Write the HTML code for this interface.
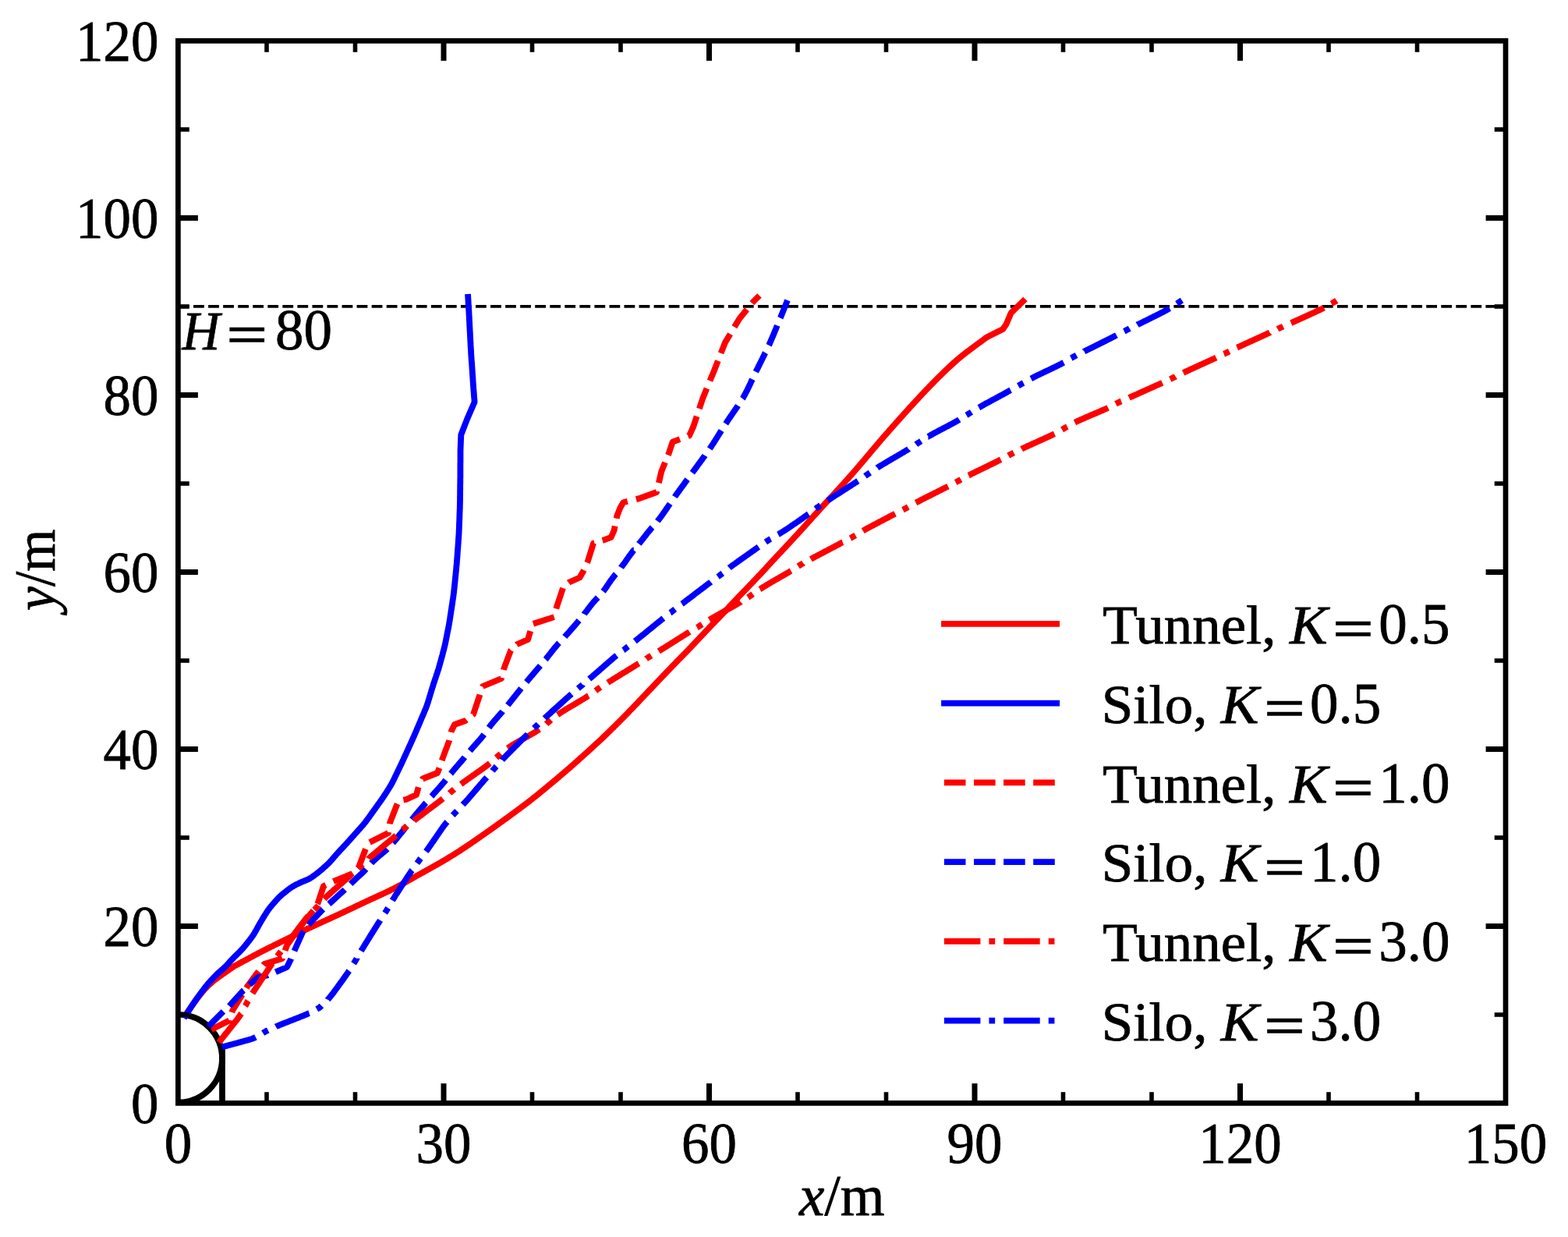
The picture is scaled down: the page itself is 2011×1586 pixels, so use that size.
<!DOCTYPE html>
<html><head><meta charset="utf-8"><style>
html,body{margin:0;padding:0;background:#fff;width:2011px;height:1586px;overflow:hidden}
svg{display:block}
text{font-family:'Liberation Serif', 'Times New Roman', serif;fill:#000;stroke:#000;stroke-width:0.8px}
</style></head><body>
<svg width="2011" height="1586" viewBox="0 0 2011 1586">
<rect width="2011" height="1586" fill="#fff"/>
<defs><clipPath id="c"><rect x="228.5" y="52.5" width="1702.5" height="1362.0"/></clipPath></defs>
<g clip-path="url(#c)">
<line x1="228.5" y1="392.85" x2="1931.0" y2="392.85" stroke="#000" stroke-width="3.9" stroke-dasharray="13.8 5.25" stroke-dashoffset="-0.5"/>
<path d="M228.5,1300.6999999999998 A56.4,56.4 0 0 1 228.5,1413.5" fill="none" stroke="#000" stroke-width="7.6"/>
<line x1="285" y1="1414.5" x2="285" y2="1342" stroke="#000" stroke-width="7.75"/>
<path d="M236.0,1304.5 L236.8,1303.2 L237.7,1302.0 L238.5,1300.7 L239.4,1299.4 L240.2,1298.2 L241.1,1296.9 L241.9,1295.7 L242.8,1294.4 L243.6,1293.2 L244.5,1291.9 L245.3,1290.7 L246.2,1289.4 L247.1,1288.2 L247.9,1286.9 L248.8,1285.7 L249.7,1284.5 L250.6,1283.2 L251.5,1282.0 L252.4,1280.8 L253.4,1279.6 L254.3,1278.4 L255.2,1277.2 L256.2,1276.0 L257.1,1274.8 L258.1,1273.7 L259.0,1272.5 L260.0,1271.3 L261.0,1270.2 L262.0,1269.0 L263.0,1267.9 L264.0,1266.8 L265.1,1265.7 L266.2,1264.6 L267.2,1263.6 L268.4,1262.5 L269.5,1261.5 L270.6,1260.5 L271.7,1259.5 L272.9,1258.5 L274.1,1257.5 L275.3,1256.6 L276.5,1255.7 L277.7,1254.8 L278.9,1253.9 L280.1,1253.0 L281.4,1252.1 L282.6,1251.2 L283.8,1250.3 L285.1,1249.5 L286.3,1248.6 L287.6,1247.7 L288.8,1246.8 L290.0,1246.0 L291.3,1245.1 L292.5,1244.2 L293.8,1243.4 L295.0,1242.5 L296.3,1241.6 L297.5,1240.7 L298.8,1239.9 L300.0,1239.0 L301.3,1238.3 L302.6,1237.6 L304.0,1236.9 L305.3,1236.2 L306.6,1235.5 L307.9,1234.8 L309.3,1234.0 L310.6,1233.3 L311.9,1232.6 L313.2,1231.9 L314.5,1231.2 L315.9,1230.5 L317.2,1229.8 L318.5,1229.1 L319.8,1228.4 L321.1,1227.6 L322.5,1226.9 L323.8,1226.2 L325.1,1225.5 L326.4,1224.8 L327.8,1224.1 L329.1,1223.4 L330.4,1222.7 L331.7,1222.0 L333.1,1221.3 L334.4,1220.6 L335.7,1219.9 L337.1,1219.2 L338.4,1218.5 L339.7,1217.9 L341.1,1217.2 L342.4,1216.5 L343.7,1215.8 L345.1,1215.2 L346.4,1214.5 L347.8,1213.8 L349.1,1213.2 L350.5,1212.5 L351.8,1211.8 L353.1,1211.2 L354.5,1210.5 L355.8,1209.9 L357.2,1209.2 L358.5,1208.5 L359.9,1207.9 L361.2,1207.2 L362.6,1206.5 L363.9,1205.9 L365.3,1205.2 L366.6,1204.6 L368.0,1203.9 L369.3,1203.2 L370.6,1202.6 L372.0,1201.9 L373.3,1201.2 L374.7,1200.6 L376.0,1199.9 L377.4,1199.2 L378.7,1198.5 L380.0,1197.9 L381.4,1197.2 L382.7,1196.5 L384.1,1195.9 L385.4,1195.2 L386.8,1194.6 L388.1,1193.9 L389.5,1193.2 L390.8,1192.6 L392.2,1191.9 L393.5,1191.3 L394.9,1190.6 L396.2,1190.0 L397.6,1189.4 L398.9,1188.7 L400.3,1188.1 L401.7,1187.5 L403.0,1186.8 L404.4,1186.2 L405.7,1185.6 L407.1,1184.9 L408.5,1184.3 L409.8,1183.7 L411.2,1183.1 L412.6,1182.4 L413.9,1181.8 L415.3,1181.2 L416.7,1180.6 L418.0,1180.0 L419.4,1179.3 L420.8,1178.7 L422.1,1178.1 L423.5,1177.5 L424.8,1176.8 L426.2,1176.2 L427.6,1175.6 L428.9,1175.0 L430.3,1174.3 L431.7,1173.7 L433.0,1173.1 L434.4,1172.5 L435.8,1171.8 L437.1,1171.2 L438.5,1170.6 L439.8,1169.9 L441.2,1169.3 L442.5,1168.6 L443.9,1168.0 L445.3,1167.4 L446.6,1166.7 L448.0,1166.1 L449.3,1165.4 L450.7,1164.8 L452.0,1164.2 L453.4,1163.5 L454.7,1162.9 L456.1,1162.2 L457.5,1161.6 L458.8,1160.9 L460.2,1160.3 L461.5,1159.7 L462.9,1159.0 L464.2,1158.4 L465.6,1157.7 L467.0,1157.1 L468.3,1156.5 L469.7,1155.8 L471.0,1155.2 L472.4,1154.6 L473.8,1153.9 L475.1,1153.3 L476.5,1152.7 L477.9,1152.1 L479.2,1151.4 L480.6,1150.8 L481.9,1150.2 L483.3,1149.6 L484.7,1148.9 L486.0,1148.3 L487.4,1147.7 L488.8,1147.1 L490.1,1146.4 L491.5,1145.8 L492.8,1145.2 L494.2,1144.5 L495.6,1143.9 L496.9,1143.3 L498.3,1142.6 L499.6,1142.0 L500.9,1141.3 L502.3,1140.6 L503.6,1140.0 L505.0,1139.3 L506.3,1138.6 L507.6,1137.9 L509.0,1137.2 L510.3,1136.5 L511.6,1135.8 L512.9,1135.1 L514.2,1134.4 L515.6,1133.7 L516.9,1132.9 L518.2,1132.2 L519.5,1131.5 L520.8,1130.7 L522.1,1130.0 L523.4,1129.3 L524.7,1128.5 L526.0,1127.8 L527.3,1127.0 L528.6,1126.3 L529.9,1125.6 L531.2,1124.8 L532.5,1124.1 L533.8,1123.3 L535.1,1122.6 L536.4,1121.9 L537.8,1121.1 L539.1,1120.4 L540.4,1119.7 L541.7,1118.9 L543.0,1118.2 L544.3,1117.5 L545.6,1116.7 L546.9,1116.0 L548.2,1115.3 L549.5,1114.6 L550.9,1113.8 L552.2,1113.1 L553.5,1112.4 L554.8,1111.6 L556.1,1110.9 L557.4,1110.2 L558.7,1109.4 L560.0,1108.7 L561.3,1108.0 L562.6,1107.2 L563.9,1106.5 L565.2,1105.7 L566.5,1105.0 L567.8,1104.2 L569.1,1103.5 L570.4,1102.7 L571.7,1101.9 L573.0,1101.2 L574.3,1100.4 L575.6,1099.6 L576.8,1098.8 L578.1,1098.1 L579.4,1097.3 L580.7,1096.5 L581.9,1095.7 L583.2,1094.9 L584.5,1094.1 L585.7,1093.3 L587.0,1092.5 L588.3,1091.7 L589.5,1090.9 L590.8,1090.0 L592.0,1089.2 L593.3,1088.4 L594.5,1087.6 L595.8,1086.7 L597.0,1085.9 L598.3,1085.1 L599.5,1084.2 L600.8,1083.4 L602.0,1082.6 L603.3,1081.7 L604.5,1080.9 L605.7,1080.0 L607.0,1079.2 L608.2,1078.3 L609.4,1077.5 L610.7,1076.6 L611.9,1075.8 L613.1,1074.9 L614.4,1074.0 L615.6,1073.2 L616.8,1072.3 L618.1,1071.5 L619.3,1070.6 L620.5,1069.8 L621.8,1068.9 L623.0,1068.0 L624.2,1067.2 L625.4,1066.3 L626.7,1065.5 L627.9,1064.6 L629.1,1063.7 L630.4,1062.9 L631.6,1062.0 L632.8,1061.1 L634.0,1060.3 L635.2,1059.4 L636.5,1058.5 L637.7,1057.6 L638.9,1056.8 L640.1,1055.9 L641.3,1055.0 L642.6,1054.1 L643.8,1053.3 L645.0,1052.4 L646.2,1051.5 L647.4,1050.6 L648.6,1049.7 L649.8,1048.9 L651.1,1048.0 L652.3,1047.1 L653.5,1046.2 L654.7,1045.3 L655.9,1044.4 L657.1,1043.5 L658.3,1042.7 L659.5,1041.8 L660.7,1040.9 L661.9,1040.0 L663.2,1039.1 L664.4,1038.2 L665.6,1037.3 L666.8,1036.4 L668.0,1035.5 L669.2,1034.6 L670.4,1033.7 L671.6,1032.8 L672.8,1031.9 L674.0,1031.0 L675.2,1030.1 L676.4,1029.2 L677.5,1028.3 L678.7,1027.4 L679.9,1026.4 L681.1,1025.5 L682.3,1024.6 L683.5,1023.7 L684.6,1022.7 L685.8,1021.8 L687.0,1020.9 L688.2,1019.9 L689.3,1019.0 L690.5,1018.1 L691.6,1017.1 L692.8,1016.2 L694.0,1015.2 L695.1,1014.3 L696.3,1013.3 L697.5,1012.4 L698.6,1011.4 L699.8,1010.4 L700.9,1009.5 L702.1,1008.5 L703.2,1007.6 L704.4,1006.6 L705.5,1005.7 L706.7,1004.7 L707.8,1003.7 L709.0,1002.8 L710.1,1001.8 L711.3,1000.8 L712.4,999.9 L713.6,998.9 L714.7,998.0 L715.9,997.0 L717.0,996.0 L718.2,995.0 L719.3,994.1 L720.5,993.1 L721.6,992.1 L722.7,991.2 L723.9,990.2 L725.0,989.2 L726.2,988.2 L727.3,987.2 L728.4,986.3 L729.6,985.3 L730.7,984.3 L731.8,983.3 L732.9,982.3 L734.1,981.3 L735.2,980.3 L736.3,979.3 L737.4,978.3 L738.6,977.3 L739.7,976.3 L740.8,975.3 L741.9,974.3 L743.0,973.3 L744.1,972.3 L745.3,971.3 L746.4,970.3 L747.5,969.3 L748.6,968.3 L749.7,967.3 L750.8,966.3 L752.0,965.3 L753.1,964.3 L754.2,963.3 L755.3,962.3 L756.4,961.3 L757.5,960.3 L758.6,959.3 L759.7,958.3 L760.8,957.2 L762.0,956.2 L763.1,955.2 L764.2,954.2 L765.3,953.2 L766.4,952.2 L767.5,951.1 L768.6,950.1 L769.7,949.1 L770.8,948.1 L771.9,947.1 L772.9,946.0 L774.0,945.0 L775.1,944.0 L776.2,942.9 L777.3,941.9 L778.4,940.8 L779.4,939.8 L780.5,938.8 L781.6,937.7 L782.7,936.7 L783.8,935.6 L784.8,934.6 L785.9,933.5 L787.0,932.5 L788.0,931.4 L789.1,930.4 L790.2,929.3 L791.2,928.2 L792.3,927.2 L793.4,926.1 L794.4,925.1 L795.5,924.0 L796.5,922.9 L797.6,921.9 L798.6,920.8 L799.7,919.7 L800.7,918.7 L801.8,917.6 L802.8,916.5 L803.9,915.4 L804.9,914.4 L806.0,913.3 L807.0,912.2 L808.0,911.1 L809.1,910.0 L810.1,909.0 L811.2,907.9 L812.2,906.8 L813.2,905.7 L814.3,904.6 L815.3,903.5 L816.3,902.5 L817.4,901.4 L818.4,900.3 L819.4,899.2 L820.5,898.1 L821.5,897.0 L822.5,895.9 L823.6,894.8 L824.6,893.8 L825.6,892.7 L826.7,891.6 L827.7,890.5 L828.7,889.4 L829.8,888.3 L830.8,887.2 L831.8,886.1 L832.9,885.0 L833.9,884.0 L834.9,882.9 L836.0,881.8 L837.0,880.7 L838.0,879.6 L839.1,878.5 L840.1,877.4 L841.1,876.3 L842.2,875.2 L843.2,874.2 L844.2,873.1 L845.3,872.0 L846.3,870.9 L847.3,869.8 L848.4,868.7 L849.4,867.6 L850.4,866.5 L851.5,865.5 L852.5,864.4 L853.5,863.3 L854.6,862.2 L855.6,861.1 L856.7,860.0 L857.7,859.0 L858.7,857.9 L859.8,856.8 L860.8,855.7 L861.9,854.6 L862.9,853.6 L864.0,852.5 L865.0,851.4 L866.1,850.3 L867.1,849.3 L868.1,848.2 L869.2,847.1 L870.2,846.1 L871.3,845.0 L872.3,843.9 L873.4,842.8 L874.4,841.8 L875.5,840.7 L876.5,839.6 L877.6,838.5 L878.6,837.5 L879.7,836.4 L880.7,835.3 L881.8,834.2 L882.8,833.2 L883.8,832.1 L884.9,831.0 L885.9,829.9 L887.0,828.8 L888.0,827.7 L889.0,826.6 L890.0,825.5 L891.1,824.5 L892.1,823.4 L893.1,822.3 L894.1,821.2 L895.2,820.1 L896.2,819.0 L897.2,817.9 L898.2,816.8 L899.3,815.7 L900.3,814.6 L901.3,813.5 L902.4,812.4 L903.4,811.3 L904.4,810.2 L905.4,809.2 L906.5,808.1 L907.5,807.0 L908.6,805.9 L909.6,804.8 L910.6,803.7 L911.7,802.7 L912.7,801.6 L913.8,800.5 L914.8,799.4 L915.8,798.3 L916.9,797.3 L917.9,796.2 L919.0,795.1 L920.0,794.0 L921.1,793.0 L922.1,791.9 L923.1,790.8 L924.2,789.7 L925.2,788.6 L926.3,787.5 L927.3,786.5 L928.3,785.4 L929.3,784.3 L930.4,783.2 L931.4,782.1 L932.4,781.0 L933.5,779.9 L934.5,778.8 L935.5,777.7 L936.5,776.6 L937.6,775.5 L938.6,774.4 L939.6,773.3 L940.6,772.3 L941.7,771.2 L942.7,770.1 L943.7,769.0 L944.8,767.9 L945.8,766.8 L946.8,765.7 L947.9,764.6 L948.9,763.6 L950.0,762.5 L951.0,761.4 L952.0,760.3 L953.1,759.2 L954.1,758.2 L955.2,757.1 L956.2,756.0 L957.3,754.9 L958.3,753.8 L959.3,752.8 L960.4,751.7 L961.4,750.6 L962.5,749.5 L963.5,748.4 L964.5,747.4 L965.6,746.3 L966.6,745.2 L967.6,744.1 L968.7,743.0 L969.7,741.9 L970.7,740.8 L971.8,739.7 L972.8,738.6 L973.8,737.6 L974.8,736.5 L975.9,735.4 L976.9,734.3 L977.9,733.2 L978.9,732.1 L979.9,731.0 L981.0,729.9 L982.0,728.8 L983.0,727.7 L984.0,726.5 L985.0,725.4 L986.0,724.3 L987.1,723.2 L988.1,722.1 L989.1,721.0 L990.1,719.9 L991.1,718.8 L992.2,717.7 L993.2,716.6 L994.2,715.5 L995.2,714.4 L996.2,713.3 L997.3,712.2 L998.3,711.1 L999.3,710.0 L1000.3,709.0 L1001.4,707.9 L1002.4,706.8 L1003.4,705.7 L1004.4,704.6 L1005.5,703.5 L1006.5,702.4 L1007.5,701.3 L1008.5,700.2 L1009.5,699.1 L1010.6,698.0 L1011.6,696.9 L1012.6,695.8 L1013.6,694.7 L1014.7,693.6 L1015.7,692.5 L1016.7,691.4 L1017.7,690.3 L1018.7,689.2 L1019.7,688.1 L1020.8,687.0 L1021.8,685.9 L1022.8,684.8 L1023.8,683.7 L1024.8,682.6 L1025.8,681.4 L1026.8,680.3 L1027.9,679.2 L1028.9,678.1 L1029.9,677.0 L1030.9,675.9 L1031.9,674.8 L1032.9,673.7 L1033.9,672.6 L1034.9,671.4 L1035.9,670.3 L1036.9,669.2 L1037.9,668.1 L1038.9,667.0 L1039.9,665.9 L1040.9,664.7 L1041.9,663.6 L1042.9,662.5 L1043.9,661.4 L1044.9,660.3 L1045.9,659.2 L1047.0,658.1 L1048.0,657.0 L1049.0,655.8 L1050.0,654.7 L1051.0,653.6 L1052.0,652.5 L1053.0,651.4 L1054.0,650.3 L1055.0,649.2 L1056.1,648.1 L1057.1,647.0 L1058.1,645.9 L1059.1,644.8 L1060.1,643.7 L1061.1,642.6 L1062.2,641.5 L1063.2,640.4 L1064.2,639.3 L1065.2,638.2 L1066.2,637.1 L1067.2,636.0 L1068.3,634.9 L1069.3,633.8 L1070.3,632.7 L1071.3,631.6 L1072.3,630.4 L1073.3,629.3 L1074.4,628.2 L1075.4,627.1 L1076.4,626.0 L1077.4,624.9 L1078.4,623.8 L1079.4,622.7 L1080.4,621.6 L1081.4,620.5 L1082.4,619.4 L1083.4,618.2 L1084.5,617.1 L1085.5,616.0 L1086.5,614.9 L1087.5,613.8 L1088.4,612.7 L1089.4,611.5 L1090.4,610.4 L1091.4,609.3 L1092.4,608.2 L1093.4,607.0 L1094.4,605.9 L1095.4,604.8 L1096.4,603.6 L1097.4,602.5 L1098.3,601.4 L1099.3,600.2 L1100.3,599.1 L1101.3,598.0 L1102.2,596.8 L1103.2,595.7 L1104.2,594.5 L1105.2,593.4 L1106.1,592.2 L1107.1,591.1 L1108.1,590.0 L1109.0,588.8 L1110.0,587.7 L1111.0,586.5 L1111.9,585.4 L1112.9,584.2 L1113.9,583.1 L1114.8,581.9 L1115.8,580.8 L1116.8,579.6 L1117.7,578.5 L1118.7,577.3 L1119.7,576.2 L1120.6,575.0 L1121.6,573.9 L1122.6,572.8 L1123.5,571.6 L1124.5,570.5 L1125.5,569.3 L1126.5,568.2 L1127.4,567.0 L1128.4,565.9 L1129.4,564.8 L1130.4,563.6 L1131.4,562.5 L1132.3,561.4 L1133.3,560.2 L1134.3,559.1 L1135.3,558.0 L1136.3,556.8 L1137.3,555.7 L1138.3,554.6 L1139.3,553.5 L1140.2,552.3 L1141.2,551.2 L1142.2,550.1 L1143.2,549.0 L1144.2,547.8 L1145.2,546.7 L1146.2,545.6 L1147.2,544.5 L1148.2,543.3 L1149.2,542.2 L1150.2,541.1 L1151.2,540.0 L1152.2,538.9 L1153.2,537.7 L1154.2,536.6 L1155.2,535.5 L1156.2,534.4 L1157.2,533.3 L1158.2,532.2 L1159.2,531.0 L1160.2,529.9 L1161.2,528.8 L1162.2,527.7 L1163.2,526.6 L1164.2,525.5 L1165.2,524.4 L1166.2,523.2 L1167.2,522.1 L1168.2,521.0 L1169.3,519.9 L1170.3,518.8 L1171.3,517.7 L1172.3,516.6 L1173.3,515.5 L1174.3,514.4 L1175.3,513.3 L1176.4,512.2 L1177.4,511.1 L1178.4,510.0 L1179.4,508.9 L1180.4,507.8 L1181.5,506.7 L1182.5,505.6 L1183.5,504.5 L1184.6,503.4 L1185.6,502.3 L1186.6,501.2 L1187.7,500.1 L1188.7,499.1 L1189.7,498.0 L1190.8,496.9 L1191.8,495.8 L1192.9,494.7 L1193.9,493.7 L1195.0,492.6 L1196.0,491.5 L1197.1,490.5 L1198.1,489.4 L1199.2,488.3 L1200.2,487.3 L1201.3,486.2 L1202.3,485.1 L1203.4,484.1 L1204.5,483.0 L1205.5,482.0 L1206.6,480.9 L1207.7,479.9 L1208.8,478.8 L1209.8,477.8 L1210.9,476.7 L1212.0,475.7 L1213.1,474.7 L1214.2,473.6 L1215.2,472.6 L1216.3,471.6 L1217.4,470.5 L1218.5,469.5 L1219.6,468.5 L1220.7,467.5 L1221.8,466.5 L1222.9,465.5 L1224.0,464.5 L1225.2,463.5 L1226.3,462.5 L1227.4,461.5 L1228.6,460.5 L1229.7,459.6 L1230.8,458.6 L1232.0,457.7 L1233.2,456.7 L1234.3,455.8 L1235.5,454.8 L1236.7,453.9 L1237.8,453.0 L1239.0,452.1 L1240.2,451.2 L1241.4,450.3 L1242.6,449.4 L1243.8,448.5 L1245.0,447.6 L1246.2,446.7 L1247.4,445.8 L1248.6,444.9 L1249.8,444.0 L1251.0,443.1 L1252.2,442.2 L1253.4,441.3 L1254.7,440.4 L1255.9,439.5 L1257.1,438.7 L1258.3,437.8 L1259.5,436.9 L1260.7,436.0 L1261.9,435.1 L1263.1,434.2 L1264.3,433.3 L1265.5,432.4 L1286.3,422.0 L1290.5,415.8 L1296.7,401.2 L1303.0,395.0 L1315.0,383.5" fill="none" stroke="#ff0000" stroke-width="7.8" stroke-linejoin="round" stroke-linecap="butt"/>
<path d="M235.9,1305.5 L236.7,1304.2 L237.5,1303.0 L238.3,1301.7 L239.1,1300.4 L239.9,1299.2 L240.7,1297.9 L241.6,1296.6 L242.4,1295.4 L243.2,1294.1 L244.0,1292.9 L244.8,1291.6 L245.6,1290.3 L246.5,1289.1 L247.3,1287.9 L248.1,1286.6 L249.0,1285.4 L249.8,1284.1 L250.7,1282.9 L251.6,1281.7 L252.4,1280.4 L253.3,1279.2 L254.1,1278.0 L255.0,1276.8 L255.9,1275.5 L256.8,1274.3 L257.7,1273.1 L258.6,1271.9 L259.5,1270.7 L260.4,1269.5 L261.3,1268.3 L262.2,1267.1 L263.1,1265.9 L264.0,1264.7 L264.9,1263.6 L265.9,1262.4 L266.8,1261.3 L267.8,1260.1 L268.8,1259.0 L269.8,1257.9 L270.9,1256.8 L271.9,1255.7 L272.9,1254.6 L273.9,1253.5 L275.0,1252.4 L276.0,1251.3 L277.1,1250.3 L278.1,1249.2 L279.2,1248.2 L280.3,1247.2 L281.4,1246.2 L282.6,1245.2 L283.7,1244.2 L284.8,1243.2 L286.0,1242.2 L287.1,1241.2 L288.2,1240.2 L289.2,1239.2 L290.3,1238.1 L291.3,1237.0 L292.3,1235.9 L293.3,1234.8 L294.3,1233.7 L295.3,1232.5 L296.3,1231.4 L297.4,1230.3 L298.4,1229.3 L299.4,1228.2 L300.5,1227.1 L301.6,1226.0 L302.6,1225.0 L303.7,1223.9 L304.8,1222.9 L305.8,1221.8 L306.9,1220.8 L308.0,1219.7 L309.0,1218.6 L310.0,1217.6 L311.1,1216.5 L312.0,1215.3 L313.0,1214.2 L314.0,1213.0 L314.9,1211.9 L315.8,1210.7 L316.8,1209.5 L317.7,1208.3 L318.6,1207.2 L319.6,1206.0 L320.5,1204.8 L321.4,1203.6 L322.3,1202.4 L323.2,1201.2 L324.1,1200.0 L324.9,1198.7 L325.7,1197.5 L326.5,1196.2 L327.2,1194.9 L328.0,1193.6 L328.7,1192.3 L329.4,1191.0 L330.1,1189.7 L330.9,1188.3 L331.6,1187.0 L332.3,1185.7 L333.1,1184.4 L333.8,1183.1 L334.6,1181.8 L335.3,1180.5 L336.1,1179.2 L336.9,1178.0 L337.6,1176.7 L338.4,1175.4 L339.2,1174.1 L340.0,1172.8 L340.8,1171.6 L341.6,1170.3 L342.4,1169.0 L343.2,1167.8 L344.1,1166.5 L345.0,1165.3 L345.9,1164.1 L346.8,1163.0 L347.8,1161.8 L348.7,1160.7 L349.7,1159.6 L350.7,1158.4 L351.7,1157.3 L352.7,1156.2 L353.7,1155.0 L354.7,1153.9 L355.7,1152.8 L356.7,1151.7 L357.7,1150.6 L358.8,1149.6 L359.9,1148.6 L361.0,1147.6 L362.2,1146.6 L363.3,1145.7 L364.5,1144.7 L365.7,1143.8 L366.8,1142.8 L368.0,1141.9 L369.2,1141.0 L370.4,1140.1 L371.6,1139.2 L372.8,1138.3 L374.1,1137.5 L375.3,1136.7 L376.6,1136.0 L377.9,1135.2 L379.2,1134.5 L380.6,1133.8 L381.9,1133.2 L383.3,1132.5 L384.6,1131.9 L386.0,1131.2 L387.4,1130.6 L388.7,1130.1 L390.1,1129.5 L391.5,1129.0 L392.9,1128.4 L394.3,1127.8 L395.6,1127.2 L396.9,1126.5 L398.2,1125.8 L399.5,1125.0 L400.7,1124.1 L401.9,1123.3 L403.1,1122.4 L404.3,1121.5 L405.5,1120.6 L406.7,1119.7 L407.9,1118.7 L409.1,1117.8 L410.2,1116.8 L411.4,1115.9 L412.5,1114.9 L413.7,1113.9 L414.8,1112.9 L415.9,1111.9 L417.0,1110.9 L418.2,1109.9 L419.3,1108.9 L420.4,1107.9 L421.5,1106.9 L422.5,1105.8 L423.5,1104.7 L424.5,1103.6 L425.5,1102.5 L426.5,1101.3 L427.4,1100.2 L428.4,1099.0 L429.4,1097.9 L430.4,1096.8 L431.4,1095.6 L432.4,1094.5 L433.4,1093.4 L434.4,1092.3 L435.4,1091.2 L436.4,1090.1 L437.5,1089.0 L438.5,1087.9 L439.5,1086.8 L440.5,1085.7 L441.6,1084.6 L442.6,1083.5 L443.6,1082.4 L444.6,1081.3 L445.6,1080.2 L446.6,1079.1 L447.6,1078.0 L448.6,1076.9 L449.6,1075.7 L450.6,1074.6 L451.6,1073.5 L452.6,1072.4 L453.6,1071.3 L454.6,1070.1 L455.6,1069.0 L456.6,1067.9 L457.6,1066.8 L458.6,1065.7 L459.6,1064.5 L460.6,1063.4 L461.6,1062.3 L462.6,1061.2 L463.6,1060.0 L464.6,1058.9 L465.6,1057.8 L466.5,1056.6 L467.5,1055.5 L468.4,1054.3 L469.3,1053.1 L470.2,1051.9 L471.1,1050.7 L472.0,1049.5 L472.9,1048.3 L473.8,1047.1 L474.6,1045.9 L475.5,1044.6 L476.4,1043.4 L477.3,1042.2 L478.1,1041.0 L479.0,1039.8 L479.9,1038.5 L480.8,1037.3 L481.6,1036.1 L482.5,1034.9 L483.4,1033.6 L484.3,1032.4 L485.1,1031.2 L486.0,1030.0 L486.9,1028.8 L487.8,1027.5 L488.6,1026.3 L489.5,1025.1 L490.3,1023.9 L491.2,1022.6 L492.0,1021.4 L492.8,1020.1 L493.6,1018.8 L494.5,1017.6 L495.3,1016.3 L496.1,1015.1 L496.9,1013.8 L497.7,1012.5 L498.5,1011.3 L499.3,1010.0 L500.1,1008.7 L500.9,1007.4 L501.6,1006.1 L502.4,1004.8 L503.1,1003.5 L503.7,1002.2 L504.4,1000.8 L505.1,999.5 L505.7,998.1 L506.4,996.8 L507.0,995.4 L507.7,994.1 L508.3,992.7 L509.0,991.4 L509.6,990.0 L510.3,988.7 L510.9,987.3 L511.6,986.0 L512.2,984.6 L512.9,983.3 L513.5,981.9 L514.2,980.6 L514.8,979.2 L515.5,977.8 L516.1,976.5 L516.7,975.1 L517.4,973.8 L518.0,972.4 L518.6,971.0 L519.2,969.7 L519.9,968.3 L520.5,966.9 L521.1,965.6 L521.7,964.2 L522.3,962.8 L523.0,961.5 L523.6,960.1 L524.2,958.7 L524.8,957.4 L525.5,956.0 L526.1,954.6 L526.7,953.3 L527.3,951.9 L527.9,950.5 L528.6,949.2 L529.2,947.8 L529.8,946.4 L530.4,945.1 L531.0,943.7 L531.6,942.3 L532.2,940.9 L532.8,939.6 L533.4,938.2 L534.0,936.8 L534.6,935.4 L535.1,934.0 L535.7,932.6 L536.3,931.3 L536.9,929.9 L537.5,928.5 L538.1,927.1 L538.7,925.7 L539.3,924.4 L539.8,923.0 L540.4,921.6 L541.0,920.2 L541.6,918.8 L542.2,917.5 L542.8,916.1 L543.4,914.7 L544.0,913.3 L544.5,911.9 L545.1,910.5 L545.7,909.2 L546.3,907.8 L546.8,906.4 L547.3,905.0 L547.8,903.6 L548.3,902.1 L548.8,900.7 L549.2,899.3 L549.6,897.8 L550.1,896.4 L550.5,895.0 L550.9,893.5 L551.4,892.1 L551.8,890.7 L552.2,889.2 L552.7,887.8 L553.1,886.3 L553.5,884.9 L554.0,883.5 L554.4,882.0 L554.9,880.6 L555.3,879.2 L555.8,877.7 L556.2,876.3 L556.7,874.9 L557.2,873.5 L557.6,872.0 L558.1,870.6 L558.6,869.2 L559.1,867.8 L559.5,866.3 L560.0,864.9 L560.5,863.5 L561.0,862.1 L561.4,860.6 L561.9,859.2 L562.4,857.8 L562.8,856.3 L563.2,854.9 L563.6,853.5 L564.0,852.0 L564.4,850.6 L564.8,849.1 L565.2,847.7 L565.6,846.2 L566.0,844.8 L566.4,843.3 L566.8,841.9 L567.2,840.4 L567.6,839.0 L567.9,837.5 L568.3,836.1 L568.7,834.6 L569.1,833.2 L569.5,831.7 L569.8,830.3 L570.2,828.8 L570.5,827.4 L570.9,825.9 L571.2,824.4 L571.5,823.0 L571.8,821.5 L572.1,820.0 L572.4,818.5 L572.7,817.1 L573.0,815.6 L573.3,814.1 L573.5,812.6 L573.8,811.2 L574.1,809.7 L574.4,808.2 L574.7,806.8 L575.0,805.3 L575.3,803.8 L575.6,802.3 L575.8,800.9 L576.1,799.4 L576.3,797.9 L576.6,796.4 L576.8,794.9 L577.1,793.5 L577.3,792.0 L577.5,790.5 L577.7,789.0 L578.0,787.5 L578.2,786.0 L578.4,784.6 L578.6,783.1 L578.9,781.6 L579.1,780.1 L579.3,778.6 L579.5,777.1 L579.8,775.6 L580.0,774.2 L580.2,772.7 L580.4,771.2 L580.6,769.7 L580.9,768.2 L581.1,766.7 L581.3,765.3 L581.5,763.8 L581.7,762.3 L581.9,760.8 L582.1,759.3 L582.2,757.8 L582.4,756.3 L582.6,754.8 L582.7,753.3 L582.9,751.8 L583.0,750.3 L583.2,748.9 L583.3,747.4 L583.5,745.9 L583.6,744.4 L583.8,742.9 L583.9,741.4 L584.1,739.9 L584.2,738.4 L584.4,736.9 L584.5,735.4 L584.7,733.9 L584.8,732.4 L585.0,730.9 L585.1,729.4 L585.2,727.9 L585.4,726.5 L585.5,725.0 L585.7,723.5 L585.8,722.0 L585.9,720.5 L586.0,719.0 L586.1,717.5 L586.3,716.0 L586.4,714.5 L586.5,713.0 L586.6,711.5 L586.7,710.0 L586.8,708.5 L586.9,707.0 L587.0,705.5 L587.1,704.0 L587.3,702.5 L587.4,701.0 L587.5,699.5 L587.6,698.0 L587.7,696.5 L587.8,695.0 L587.9,693.5 L588.0,692.0 L588.1,690.5 L588.2,689.0 L588.3,687.5 L588.4,686.0 L588.5,684.5 L588.6,683.0 L588.6,681.5 L588.7,680.0 L588.8,678.5 L588.8,677.0 L588.9,675.5 L588.9,674.0 L589.0,672.5 L589.0,671.0 L589.1,669.5 L589.2,668.0 L589.2,666.5 L589.3,665.0 L589.3,663.5 L589.4,662.0 L589.4,660.5 L589.5,659.0 L589.5,657.5 L589.6,656.0 L589.6,654.5 L589.7,653.0 L589.8,651.5 L589.8,650.0 L589.8,648.5 L589.9,647.0 L589.9,645.5 L589.9,644.0 L590.0,642.5 L590.0,641.0 L590.0,639.5 L590.0,638.0 L590.0,636.5 L590.1,635.0 L590.1,633.5 L590.1,632.0 L590.1,630.5 L590.1,629.0 L590.2,627.5 L590.2,626.0 L590.2,624.5 L590.2,623.0 L590.2,621.5 L590.3,620.0 L590.3,618.5 L590.3,617.0 L590.3,615.5 L590.3,614.0 L590.4,612.5 L590.4,611.0 L590.4,609.5 L590.4,608.0 L590.4,606.5 L590.4,605.0 L590.4,603.5 L590.4,602.0 L590.4,600.5 L590.4,599.0 L590.4,597.5 L590.4,596.0 L590.4,594.5 L590.5,593.0 L590.5,591.5 L590.5,590.0 L590.5,588.5 L590.5,587.0 L590.5,585.5 L590.5,584.0 L590.5,582.5 L590.5,581.0 L590.5,579.5 L590.5,578.0 L591.3,557.5 L599.2,537.1 L608.6,515.5 L608.5,514.0 L608.4,512.5 L608.3,511.0 L608.1,509.5 L608.0,508.0 L607.9,506.5 L607.8,505.0 L607.7,503.5 L607.6,502.0 L607.4,500.5 L607.3,499.0 L607.2,497.5 L607.1,495.9 L607.0,494.4 L606.9,492.9 L606.8,491.4 L606.7,489.9 L606.6,488.4 L606.5,486.9 L606.4,485.4 L606.3,483.9 L606.2,482.4 L606.1,480.9 L606.0,479.4 L605.9,477.9 L605.8,476.4 L605.7,474.9 L605.6,473.4 L605.5,471.9 L605.4,470.4 L605.3,468.9 L605.2,467.4 L605.1,465.8 L605.0,464.3 L604.8,462.8 L604.7,461.3 L604.6,459.8 L604.5,458.3 L604.4,456.8 L604.3,455.3 L604.2,453.8 L604.1,452.3 L604.1,450.8 L604.0,449.3 L603.9,447.8 L603.8,446.3 L603.7,444.8 L603.6,443.3 L603.5,441.8 L603.5,440.3 L603.4,438.8 L603.3,437.2 L603.2,435.7 L603.2,434.2 L603.1,432.7 L603.0,431.2 L602.9,429.7 L602.9,428.2 L602.8,426.7 L602.7,425.2 L602.6,423.7 L602.5,422.2 L602.5,420.7 L602.4,419.2 L602.3,417.7 L602.2,416.2 L602.2,414.6 L602.1,413.1 L602.0,411.6 L601.9,410.1 L601.9,408.6 L601.8,407.1 L601.7,405.6 L601.6,404.1 L601.5,402.6 L601.5,401.1 L601.4,399.6 L601.3,398.1 L601.2,396.6 L601.1,395.1 L601.0,393.6 L600.9,392.1 L600.8,390.6 L600.7,389.0 L600.6,387.5 L600.6,386.0 L600.5,384.5 L600.4,383.0 L600.3,381.5 L600.2,380.0 L600.1,378.5 L600.0,377.0" fill="none" stroke="#0000ff" stroke-width="7.8" stroke-linejoin="round" stroke-linecap="butt"/>
<path d="M271.0,1320.0 L294.0,1308.5 L294.2,1307.7 M297.3,1298.1 L298.0,1296.0 L306.0,1283.0 L310.7,1275.3 M316.0,1266.7 L317.0,1265.0 L328.0,1250.0 L331.7,1245.3 M337.9,1237.4 L339.0,1236.0 L362.0,1229.0 L362.2,1228.3 M365.6,1218.8 L368.0,1212.0 L379.1,1196.2 M385.2,1188.2 L393.0,1178.0 L401.9,1167.5 M407.0,1158.9 L408.0,1157.0 L415.0,1136.0 L417.9,1134.7 M427.6,1130.1 L430.0,1129.0 L452.0,1120.0 L452.4,1119.7 M459.2,1113.1 L460.0,1112.0 L468.0,1091.0 L469.0,1088.6 M474.1,1079.9 L498.0,1068.0 L498.2,1066.9 M499.8,1056.3 L500.0,1055.0 L509.0,1032.0 L509.6,1030.6 M517.4,1025.7 L521.0,1025.0 L534.0,1019.0 L536.7,1009.2 M541.6,999.3 L542.0,998.5 L561.0,991.0 L563.0,986.0 L563.5,984.6 M566.7,974.9 L567.0,974.0 L576.0,950.0 L576.2,949.1 M578.6,938.8 L579.0,937.0 L583.0,929.0 L597.0,924.0 L598.3,923.0 M606.2,916.6 L607.0,916.0 L615.0,892.0 L615.4,890.7 M618.8,880.5 L619.0,880.0 L643.0,870.0 L643.3,868.8 M645.8,858.9 L646.0,858.0 L655.0,834.0 L655.3,833.7 M662.7,826.4 L662.8,826.3 L677.0,820.0 L680.3,809.1 M683.9,799.7 L710.7,791.1 M713.4,780.5 L714.0,778.0 L722.0,754.1 M729.2,747.1 L729.6,746.8 L743.5,740.5 L748.5,731.7 L748.9,730.9 M753.1,721.5 L753.6,720.4 L761.1,696.4 L762.4,696.0 M772.7,692.9 L773.8,692.6 L783.8,688.8 L787.6,680.0 L788.7,674.4 M790.7,664.7 L791.3,661.5 L795.3,651.3 L799.4,644.2 L804.8,642.8 M815.9,640.1 L819.8,639.1 L842.2,631.0 L842.5,629.6 M844.9,619.1 L848.3,604.5 L853.0,592.9 M856.9,583.5 L857.5,582.0 L862.6,566.7 L872.0,563.1 M882.4,559.2 L884.0,558.6 L889.1,547.4 L893.6,533.8 M896.9,523.9 L901.3,510.7 L906.5,498.1 M910.5,488.3 L915.6,476.0 L920.8,462.6 M924.6,452.9 L929.9,439.3 L936.6,428.2 M941.9,419.2 L948.2,408.7 L957.9,396.8 M964.6,388.7 L966.6,386.3 L974.0,379.0" fill="none" stroke="#ff0000" stroke-width="7.8" stroke-linejoin="round" stroke-linecap="butt"/>
<path d="M267.3,1316.0 L286.2,1297.0 L286.4,1296.8 M294.0,1289.8 L312.0,1270.0 L312.5,1269.6 M320.1,1262.4 L321.0,1261.5 L331.0,1253.0 L343.0,1250.5 L343.7,1250.2 M353.4,1246.3 L355.0,1245.6 L368.0,1240.0 L373.0,1230.0 L373.3,1229.2 M377.5,1219.2 L378.0,1218.0 L388.5,1194.5 L389.1,1193.7 M395.7,1185.6 L397.0,1184.0 L413.0,1167.0 L414.1,1166.0 L414.3,1165.8 M421.9,1159.0 L423.1,1158.0 L424.2,1157.0 L425.3,1156.0 L426.4,1155.0 L427.5,1154.0 L428.6,1152.9 L429.8,1151.9 L430.9,1150.9 L432.0,1149.9 L433.1,1148.9 L434.2,1147.9 L435.3,1146.9 L436.4,1145.9 L437.5,1144.9 L438.6,1143.9 L439.7,1142.8 L440.8,1141.8 L441.9,1140.8 L442.1,1140.6 M449.6,1133.3 L450.5,1132.4 L451.6,1131.3 L452.7,1130.3 L453.8,1129.3 L454.9,1128.3 L456.0,1127.2 L457.1,1126.2 L458.2,1125.2 L459.3,1124.2 L460.4,1123.2 L461.5,1122.2 L462.6,1121.2 L463.7,1120.1 L464.8,1119.1 L465.8,1118.0 L466.9,1117.0 L467.9,1115.9 L468.9,1114.8 L469.3,1114.3 M476.2,1106.7 L476.9,1105.9 L477.9,1104.9 L479.0,1103.8 L480.1,1102.8 L481.2,1101.8 L482.3,1100.8 L483.4,1099.8 L484.5,1098.8 L485.7,1097.9 L486.8,1096.9 L488.0,1096.0 L489.2,1095.0 L490.3,1094.1 L491.5,1093.1 L492.6,1092.2 L493.7,1091.2 L494.9,1090.2 L496.0,1089.2 L496.8,1088.4 M504.0,1080.7 L504.2,1080.5 L505.2,1079.4 L506.1,1078.2 L507.1,1077.1 L508.0,1075.9 L509.0,1074.8 L509.9,1073.6 L510.9,1072.4 L511.8,1071.3 L512.8,1070.1 L513.7,1068.9 L514.7,1067.8 L515.6,1066.6 L516.6,1065.4 L517.5,1064.3 L518.4,1063.1 L519.4,1061.9 L520.3,1060.7 L521.2,1059.5 L521.6,1059.0 M528.2,1050.7 L528.7,1050.1 L529.7,1049.0 L530.6,1047.8 L531.6,1046.7 L532.5,1045.5 L533.5,1044.3 L534.4,1043.2 L535.4,1042.0 L536.4,1040.9 L537.3,1039.7 L538.3,1038.6 L539.3,1037.4 L540.2,1036.3 L541.2,1035.2 L542.2,1034.0 L543.2,1032.9 L544.1,1031.7 L545.1,1030.6 L546.1,1029.4 L546.3,1029.2 M553.3,1021.1 L554.0,1020.4 L555.0,1019.2 L555.9,1018.1 L556.9,1017.0 L557.9,1015.9 L559.0,1014.8 L560.0,1013.6 L561.0,1012.5 L562.0,1011.4 L563.0,1010.3 L564.0,1009.2 L565.0,1008.0 L566.0,1006.9 L566.9,1005.8 L567.9,1004.6 L568.9,1003.5 L569.9,1002.4 L570.8,1001.2 L571.7,1000.1 M578.2,991.9 L578.3,991.8 L579.2,990.6 L580.2,989.5 L581.1,988.3 L582.1,987.2 L583.0,986.0 L584.0,984.9 L585.0,983.7 L586.0,982.6 L587.0,981.5 L587.9,980.3 L588.9,979.2 L589.9,978.1 L590.9,976.9 L591.9,975.8 L592.8,974.6 L593.8,973.5 L594.8,972.3 L595.7,971.2 L596.0,970.8 M602.8,962.7 L603.4,962.0 L604.4,960.8 L605.4,959.7 L606.3,958.5 L607.3,957.4 L608.3,956.3 L609.3,955.2 L610.3,954.1 L611.3,953.0 L612.3,951.8 L613.3,950.7 L614.3,949.6 L615.3,948.5 L616.3,947.3 L617.2,946.2 L618.2,945.0 L619.1,943.9 L620.0,942.7 L620.8,941.6 M627.0,933.0 L627.0,933.0 L627.9,931.8 L628.8,930.6 L629.7,929.4 L630.7,928.3 L631.6,927.1 L632.6,925.9 L633.5,924.8 L634.5,923.7 L635.5,922.5 L636.5,921.4 L637.5,920.3 L638.5,919.1 L639.4,918.0 L640.4,916.9 L641.4,915.8 L642.4,914.6 L643.4,913.5 L644.4,912.3 L644.6,912.0 M651.2,904.1 L652.0,903.1 L653.0,901.9 L653.9,900.8 L654.9,899.6 L655.8,898.4 L656.7,897.3 L657.7,896.1 L658.6,894.9 L659.5,893.7 L660.5,892.5 L661.4,891.4 L662.3,890.2 L663.3,889.0 L664.2,887.8 L665.1,886.7 L666.1,885.5 L667.0,884.3 L668.0,883.1 L668.4,882.6 M675.1,874.5 L675.6,873.9 L676.6,872.7 L677.5,871.6 L678.5,870.4 L679.5,869.3 L680.4,868.1 L681.4,867.0 L682.4,865.9 L683.4,864.7 L684.3,863.6 L685.3,862.4 L686.3,861.3 L687.3,860.1 L688.3,859.0 L689.2,857.9 L690.2,856.7 L691.2,855.6 L692.2,854.4 L693.0,853.5 M699.6,845.5 L699.9,845.2 L700.8,844.1 L701.7,842.9 L702.7,841.7 L703.6,840.5 L704.5,839.4 L705.5,838.2 L706.4,837.0 L707.3,835.8 L708.3,834.6 L709.2,833.5 L710.1,832.3 L711.1,831.1 L712.0,830.0 L713.0,828.8 L714.0,827.7 L714.9,826.5 L715.9,825.4 L716.9,824.3 L717.0,824.2 M724.3,816.5 L725.1,815.5 L726.1,814.4 L727.1,813.3 L728.2,812.2 L729.2,811.1 L730.2,810.0 L731.1,808.8 L732.1,807.7 L733.1,806.6 L734.1,805.4 L735.1,804.3 L736.1,803.2 L737.1,802.0 L738.0,800.9 L739.0,799.8 L740.0,798.6 L741.0,797.5 L741.9,796.3 L742.6,795.5 M749.3,787.4 L749.5,787.0 L750.4,785.9 L751.4,784.7 L752.3,783.5 L753.2,782.3 L754.0,781.1 L754.9,779.9 L755.9,778.7 L756.8,777.5 L757.7,776.3 L758.6,775.1 L759.6,774.0 L760.5,772.9 L761.5,771.7 L762.5,770.6 L763.5,769.5 L764.5,768.4 L765.6,767.3 L766.6,766.2 L766.7,766.1 M773.5,758.3 L774.4,757.2 L775.3,756.0 L776.2,754.8 L777.0,753.6 L777.9,752.4 L778.7,751.1 L779.5,749.9 L780.4,748.6 L781.2,747.4 L782.1,746.2 L782.9,744.9 L783.8,743.7 L784.7,742.5 L785.6,741.3 L786.5,740.1 L787.4,739.0 L788.3,737.8 L789.3,736.6 L789.8,736.1 M796.5,727.8 L796.8,727.3 L797.7,726.1 L798.6,724.9 L799.5,723.7 L800.4,722.5 L801.3,721.3 L802.1,720.1 L803.0,718.8 L803.8,717.6 L804.7,716.4 L805.6,715.1 L806.4,713.9 L807.3,712.7 L808.2,711.5 L809.1,710.3 L810.0,709.1 L810.9,707.9 L811.8,706.7 L812.7,705.5 L812.8,705.5 M819.4,697.4 L819.4,697.4 L820.3,696.2 L821.3,695.0 L822.2,693.9 L823.1,692.7 L824.1,691.5 L825.0,690.3 L825.9,689.2 L826.8,688.0 L827.8,686.8 L828.7,685.6 L829.6,684.4 L830.5,683.2 L831.5,682.1 L832.4,680.9 L833.4,679.8 L834.3,678.6 L835.3,677.5 L836.3,676.3 L836.5,676.1 M843.3,668.2 L844.0,667.2 L845.0,666.0 L845.9,664.8 L846.8,663.7 L847.7,662.5 L848.6,661.2 L849.5,660.0 L850.3,658.8 L851.2,657.6 L852.1,656.3 L852.9,655.1 L853.8,653.9 L854.6,652.6 L855.5,651.4 L856.3,650.2 L857.2,648.9 L858.0,647.7 L858.9,646.4 L859.3,645.8 M865.4,637.1 L865.7,636.6 L866.6,635.4 L867.4,634.1 L868.3,632.9 L869.2,631.7 L870.1,630.5 L871.0,629.2 L871.8,628.0 L872.7,626.8 L873.6,625.6 L874.5,624.4 L875.4,623.2 L876.3,622.0 L877.2,620.8 L878.0,619.6 L878.9,618.3 L879.8,617.1 L880.7,615.9 L881.6,614.7 L881.6,614.7 M887.8,606.2 L888.7,605.0 L889.6,603.8 L890.5,602.6 L891.4,601.4 L892.3,600.2 L893.2,599.0 L894.0,597.8 L894.9,596.5 L895.8,595.3 L896.7,594.1 L897.6,592.9 L898.5,591.7 L899.4,590.5 L900.2,589.3 L901.1,588.1 L902.0,586.8 L902.9,585.6 L903.8,584.4 L904.1,583.9 M910.2,575.4 L910.7,574.6 L911.6,573.4 L912.4,572.1 L913.2,570.9 L914.1,569.6 L914.9,568.4 L915.7,567.1 L916.5,565.8 L917.3,564.6 L918.1,563.3 L918.9,562.0 L919.7,560.8 L920.5,559.5 L921.3,558.2 L922.1,556.9 L922.9,555.7 L923.7,554.4 L924.5,553.1 L925.1,552.1 M930.8,543.3 L931.0,543.0 L931.8,541.7 L932.6,540.5 L933.4,539.2 L934.3,538.0 L935.1,536.7 L935.9,535.5 L936.8,534.2 L937.6,533.0 L938.5,531.8 L939.3,530.5 L940.2,529.3 L941.0,528.0 L941.9,526.8 L942.7,525.6 L943.6,524.3 L944.4,523.1 L945.3,521.9 L946.1,520.6 L946.4,520.1 M952.3,511.1 L952.7,510.6 L953.4,509.3 L954.2,508.0 L954.9,506.7 L955.6,505.4 L956.3,504.0 L957.0,502.7 L957.7,501.4 L958.4,500.0 L959.0,498.7 L959.7,497.3 L960.3,496.0 L961.0,494.6 L961.6,493.3 L962.3,491.9 L962.9,490.5 L963.5,489.2 L964.2,487.8 L964.8,486.5 L964.9,486.3 M969.4,476.8 L970.0,475.6 L970.6,474.3 L971.3,472.9 L972.0,471.6 L972.6,470.2 L973.3,468.9 L974.0,467.5 L974.6,466.2 L975.3,464.8 L976.0,463.5 L976.6,462.2 L977.3,460.8 L978.0,459.5 L978.6,458.1 L979.3,456.8 L980.0,455.4 L980.6,454.1 L981.3,452.7 L981.6,452.2 M986.1,442.7 L986.5,441.9 L987.1,440.5 L987.7,439.2 L988.3,437.8 L988.9,436.4 L989.5,435.0 L990.1,433.7 L990.7,432.3 L991.3,430.9 L991.9,429.5 L992.4,428.1 L993.0,426.7 L993.6,425.3 L994.1,423.9 L994.7,422.6 L995.3,421.2 L995.8,419.8 L996.4,418.4 L996.8,417.4 M1000.8,407.7 L1001.0,407.3 L1001.5,405.9 L1002.1,404.5 L1002.7,403.1 L1003.2,401.7 L1003.8,400.3 L1004.4,398.9 L1004.9,397.5 L1005.5,396.1 L1006.0,394.7 L1006.6,393.4 L1007.2,392.0 L1007.7,390.6 L1008.3,389.2 L1008.9,387.8 L1009.4,386.4 L1010.0,385.0" fill="none" stroke="#0000ff" stroke-width="7.8" stroke-linejoin="round" stroke-linecap="butt"/>
<path d="M280.8,1336.5 L281.7,1335.3 L282.7,1334.1 L283.6,1333.0 L284.5,1331.8 L285.5,1330.6 L286.4,1329.4 L287.3,1328.3 L288.3,1327.1 L289.2,1325.9 L290.1,1324.7 L291.1,1323.6 L292.0,1322.4 L292.9,1321.2 L293.8,1320.0 L294.8,1318.9 L295.7,1317.7 L296.6,1316.5 L297.6,1315.3 L298.5,1314.1 L299.4,1313.0 L300.4,1311.8 L301.3,1310.6 L302.2,1309.4 L303.2,1308.3 L304.1,1307.1 L305.0,1305.9 L305.9,1304.7 L306.7,1303.5 L307.6,1302.2 L308.4,1301.0 L309.2,1299.7 L309.3,1299.6 M314.5,1289.8 L314.9,1289.2 L315.6,1287.9 L316.3,1286.6 L317.0,1285.2 L317.7,1283.9 L318.2,1283.1 M323.8,1273.6 L324.6,1272.3 L325.4,1271.1 L326.2,1269.8 L327.0,1268.5 L327.8,1267.3 L328.7,1266.0 L329.5,1264.8 L330.3,1263.5 L331.2,1262.3 L332.0,1261.0 L332.8,1259.8 L333.6,1258.5 L334.5,1257.3 L335.3,1256.0 L336.1,1254.8 L337.0,1253.5 L337.8,1252.3 L338.6,1251.0 L339.5,1249.8 L340.3,1248.5 L341.1,1247.3 L342.0,1246.0 L342.8,1244.8 L343.6,1243.5 L344.4,1242.3 L345.3,1241.0 L346.1,1239.7 L346.9,1238.5 L347.7,1237.2 L348.5,1236.0 L349.3,1234.9 M355.6,1225.9 L356.3,1225.0 L357.2,1223.8 L358.2,1222.6 L359.1,1221.4 L360.0,1220.2 L360.3,1219.8 M367.1,1211.1 L367.4,1210.8 L368.3,1209.6 L369.2,1208.4 L370.1,1207.2 L371.0,1206.0 L372.0,1204.8 L372.9,1203.6 L373.8,1202.4 L374.7,1201.2 L375.6,1200.0 L376.5,1198.8 L377.4,1197.6 L378.3,1196.4 L379.2,1195.2 L380.1,1194.0 L381.0,1192.8 L381.9,1191.6 L382.8,1190.4 L383.7,1189.2 L384.6,1188.0 L385.5,1186.8 L386.4,1185.6 L387.3,1184.5 L388.3,1183.3 L389.2,1182.1 L390.1,1180.9 L391.0,1179.7 L391.9,1178.5 L392.9,1177.3 L393.8,1176.2 L394.8,1175.1 L395.4,1174.4 M403.1,1166.5 L403.1,1166.5 L404.2,1165.4 L405.2,1164.3 L406.2,1163.3 L407.3,1162.2 L408.3,1161.1 L408.4,1160.9 M415.9,1152.6 L416.3,1152.2 L417.4,1151.1 L418.4,1150.1 L419.5,1149.0 L420.6,1148.0 L421.7,1147.0 L422.8,1146.0 L423.9,1145.0 L425.0,1144.0 L426.2,1143.0 L427.3,1142.0 L428.4,1141.0 L429.5,1140.0 L430.7,1139.0 L431.8,1138.0 L432.9,1137.0 L434.0,1136.0 L435.1,1135.0 L436.3,1134.0 L437.4,1133.0 L438.5,1132.0 L439.6,1131.0 L440.7,1130.0 L441.9,1129.0 L443.0,1128.0 L444.1,1127.0 L445.2,1126.0 L446.4,1125.0 L447.5,1124.0 L448.6,1123.0 L449.7,1122.0 L450.8,1121.1 M459.1,1113.6 L459.7,1113.0 L460.9,1112.0 L462.0,1110.9 L463.1,1109.9 L464.2,1108.9 L464.7,1108.3 M472.8,1100.9 L472.9,1100.7 L474.1,1099.7 L475.2,1098.7 L476.3,1097.7 L477.4,1096.8 L478.6,1095.8 L479.7,1094.8 L480.9,1093.9 L482.0,1092.9 L483.2,1091.9 L484.3,1091.0 L485.5,1090.0 L486.7,1089.1 L487.8,1088.1 L489.0,1087.1 L490.1,1086.2 L491.3,1085.2 L492.4,1084.3 L493.6,1083.3 L494.7,1082.3 L495.9,1081.4 L497.0,1080.4 L498.2,1079.5 L499.4,1078.5 L500.5,1077.5 L501.7,1076.6 L502.8,1075.6 L504.0,1074.7 L505.1,1073.7 L506.2,1072.7 L507.4,1071.7 L508.0,1071.2 M516.2,1063.9 L516.4,1063.8 L517.5,1062.8 L518.7,1061.8 L519.8,1060.9 L521.0,1059.9 L522.1,1059.0 M530.9,1052.2 L531.6,1051.6 L532.8,1050.7 L534.0,1049.8 L535.2,1048.9 L536.4,1048.0 L537.6,1047.1 L538.8,1046.2 L540.0,1045.3 L541.2,1044.4 L542.4,1043.5 L543.6,1042.5 L544.8,1041.6 L546.0,1040.7 L547.2,1039.8 L548.4,1038.9 L549.6,1038.0 L550.8,1037.1 L552.0,1036.2 L553.2,1035.3 L554.4,1034.4 L555.6,1033.5 L556.8,1032.6 L558.0,1031.7 L559.2,1030.8 L560.4,1029.9 L561.6,1029.0 L562.7,1028.1 L563.9,1027.2 L565.1,1026.3 L566.3,1025.3 L567.5,1024.4 L568.1,1023.9 M576.6,1016.9 L576.7,1016.8 L577.9,1015.8 L579.0,1014.8 L580.2,1013.9 L581.4,1013.0 L582.5,1012.0 M591.1,1005.4 L592.1,1004.7 L593.3,1003.8 L594.5,1002.9 L595.7,1002.0 L596.9,1001.2 L598.1,1000.3 L599.4,999.4 L600.6,998.6 L601.8,997.7 L603.0,996.8 L604.3,996.0 L605.5,995.1 L606.7,994.2 L607.9,993.4 L609.2,992.5 L610.4,991.6 L611.6,990.8 L612.8,989.9 L614.1,989.0 L615.3,988.2 L616.5,987.3 L617.7,986.4 L619.0,985.6 L620.2,984.7 L621.4,983.8 L622.6,982.9 L623.8,982.1 L625.0,981.2 L626.2,980.3 L627.4,979.3 L628.3,978.6 M636.5,971.5 L636.5,971.5 L637.6,970.5 L638.7,969.5 L639.8,968.5 L641.0,967.5 L642.1,966.6 L642.3,966.4 M651.0,959.4 L651.5,959.1 L652.7,958.2 L653.9,957.3 L655.2,956.5 L656.4,955.7 L657.7,954.9 L659.0,954.2 L660.3,953.4 L661.6,952.7 L662.9,951.9 L664.2,951.2 L665.5,950.4 L666.8,949.7 L668.1,949.0 L669.4,948.2 L670.7,947.5 L672.0,946.8 L673.3,946.0 L674.7,945.3 L676.0,944.6 L677.3,943.8 L678.6,943.1 L679.9,942.4 L681.2,941.6 L682.5,940.9 L683.8,940.1 L685.1,939.4 L686.4,938.6 L687.6,937.8 L688.9,937.0 L690.1,936.2 L691.4,935.3 L691.7,935.1 M700.6,928.2 L700.8,928.0 L702.0,927.0 L703.1,926.1 L704.3,925.1 L705.5,924.2 L706.6,923.2 M715.2,916.4 L716.1,915.8 L717.3,914.9 L718.5,914.1 L719.8,913.3 L721.0,912.5 L722.3,911.7 L723.6,910.9 L724.9,910.1 L726.1,909.3 L727.4,908.6 L728.7,907.8 L730.0,907.0 L731.3,906.3 L732.6,905.5 L733.9,904.7 L735.2,904.0 L736.5,903.2 L737.7,902.4 L739.0,901.7 L740.3,900.9 L741.6,900.1 L742.9,899.3 L744.2,898.6 L745.5,897.8 L746.8,897.0 L748.0,896.3 L749.3,895.5 L750.6,894.7 L751.9,893.9 L753.1,893.1 L754.4,892.2 L754.8,892.0 M763.8,885.6 L764.2,885.3 L765.4,884.4 L766.6,883.6 L767.8,882.7 L769.1,881.9 L770.1,881.2 M779.5,875.2 L780.4,874.6 L781.7,873.8 L783.0,873.0 L784.3,872.2 L785.5,871.4 L786.8,870.6 L788.1,869.8 L789.4,869.0 L790.6,868.2 L791.9,867.5 L793.2,866.7 L794.5,865.9 L795.8,865.1 L797.0,864.3 L798.3,863.5 L799.6,862.8 L800.9,862.0 L802.2,861.2 L803.4,860.4 L804.7,859.6 L806.0,858.8 L807.3,858.0 L808.6,857.3 L809.8,856.5 L811.1,855.7 L812.4,854.9 L813.7,854.1 L814.9,853.3 L816.2,852.5 L817.5,851.7 L818.8,850.9 L819.3,850.6 M828.8,844.6 L828.9,844.5 L830.2,843.7 L831.5,842.9 L832.7,842.2 L834.0,841.4 L835.3,840.6 L835.3,840.6 M844.8,834.9 L845.6,834.4 L846.9,833.6 L848.2,832.8 L849.4,832.0 L850.7,831.3 L852.0,830.5 L853.2,829.7 L854.5,828.9 L855.8,828.1 L857.1,827.3 L858.3,826.5 L859.6,825.7 L860.9,824.9 L862.1,824.1 L863.4,823.3 L864.7,822.5 L865.9,821.7 L867.2,820.9 L868.5,820.1 L869.7,819.3 L871.0,818.5 L872.3,817.7 L873.6,816.9 L874.8,816.1 L876.1,815.3 L877.4,814.5 L878.6,813.7 L879.9,812.9 L881.2,812.1 L882.5,811.3 L883.8,810.6 L884.4,810.2 M893.9,804.6 L894.1,804.5 L895.4,803.7 L896.7,802.9 L898.0,802.1 L899.2,801.3 L900.5,800.5 M909.7,794.7 L910.7,794.1 L911.9,793.4 L913.2,792.6 L914.5,791.9 L915.8,791.1 L917.1,790.4 L918.5,789.6 L919.8,788.9 L921.1,788.2 L922.4,787.4 L923.7,786.7 L925.0,786.0 L926.3,785.3 L927.6,784.5 L928.9,783.8 L930.3,783.1 L931.6,782.3 L932.9,781.6 L934.2,780.9 L935.5,780.1 L936.8,779.4 L938.1,778.7 L939.4,777.9 L940.7,777.2 L942.0,776.5 L943.3,775.7 L944.6,775.0 L945.9,774.2 L947.2,773.4 L948.5,772.7 L949.8,771.9 L949.9,771.8 M959.2,766.0 L960.0,765.5 L961.2,764.7 L962.5,763.9 L963.7,763.0 L964.9,762.2 L965.6,761.7 M974.6,755.5 L974.8,755.4 L976.1,754.5 L977.3,753.7 L978.6,752.9 L979.9,752.1 L981.2,751.4 L982.4,750.6 L983.7,749.8 L985.0,749.1 L986.3,748.3 L987.6,747.5 L988.9,746.8 L990.2,746.0 L991.5,745.3 L992.8,744.5 L994.1,743.8 L995.4,743.0 L996.7,742.3 L998.0,741.5 L999.3,740.8 L1000.6,740.0 L1001.9,739.3 L1003.2,738.5 L1004.5,737.8 L1005.8,737.0 L1007.1,736.3 L1008.4,735.5 L1009.7,734.7 L1011.0,734.0 L1012.3,733.2 L1013.5,732.4 L1014.4,731.9 M1023.7,726.0 L1023.7,726.0 L1024.9,725.2 L1026.2,724.4 L1027.5,723.6 L1028.8,722.9 L1030.1,722.1 L1030.2,722.0 M1039.9,716.8 L1040.6,716.4 L1042.0,715.7 L1043.3,715.0 L1044.6,714.3 L1046.0,713.6 L1047.3,712.9 L1048.6,712.2 L1049.9,711.5 L1051.3,710.8 L1052.6,710.1 L1053.9,709.4 L1055.3,708.7 L1056.6,708.0 L1057.9,707.3 L1059.2,706.6 L1060.6,705.9 L1061.9,705.2 L1063.2,704.5 L1064.6,703.8 L1065.9,703.1 L1067.2,702.4 L1068.5,701.7 L1069.9,701.0 L1071.2,700.3 L1072.5,699.6 L1073.9,698.9 L1075.2,698.2 L1076.5,697.5 L1077.8,696.8 L1079.2,696.1 L1080.5,695.4 L1080.8,695.3 M1090.5,690.1 L1091.1,689.8 L1092.4,689.1 L1093.7,688.3 L1095.0,687.6 L1096.3,686.8 L1097.2,686.3 M1106.7,680.6 L1107.9,679.9 L1109.2,679.2 L1110.5,678.4 L1111.8,677.7 L1113.1,677.0 L1114.5,676.3 L1115.8,675.6 L1117.1,674.9 L1118.4,674.2 L1119.8,673.5 L1121.1,672.8 L1122.4,672.1 L1123.8,671.4 L1125.1,670.7 L1126.4,670.0 L1127.7,669.3 L1129.1,668.6 L1130.4,667.9 L1131.7,667.2 L1133.0,666.5 L1134.4,665.8 L1135.7,665.1 L1137.0,664.4 L1138.4,663.7 L1139.7,663.0 L1141.0,662.3 L1142.4,661.6 L1143.7,660.9 L1145.0,660.2 L1146.4,659.5 L1147.7,658.9 L1148.1,658.7 M1158.0,653.7 L1158.4,653.5 L1159.7,652.8 L1161.1,652.1 L1162.4,651.4 L1163.7,650.6 L1164.8,650.0 M1174.5,644.6 L1175.5,644.1 L1176.8,643.4 L1178.2,642.7 L1179.5,642.0 L1180.8,641.3 L1182.1,640.6 L1183.5,639.9 L1184.8,639.2 L1186.2,638.6 L1187.5,637.9 L1188.8,637.2 L1190.2,636.5 L1191.5,635.9 L1192.9,635.2 L1194.2,634.5 L1195.6,633.8 L1196.9,633.2 L1198.2,632.5 L1199.6,631.8 L1200.9,631.2 L1202.3,630.5 L1203.6,629.8 L1204.9,629.1 L1206.3,628.5 L1207.6,627.8 L1209.0,627.1 L1210.3,626.4 L1211.6,625.8 L1213.0,625.1 L1214.3,624.4 L1215.7,623.7 L1215.9,623.6 M1225.7,618.4 L1226.3,618.1 L1227.6,617.4 L1228.9,616.7 L1230.2,616.0 L1231.6,615.3 L1232.5,614.8 M1242.2,609.6 L1243.5,609.0 L1244.8,608.3 L1246.2,607.6 L1247.5,606.9 L1248.9,606.3 L1250.2,605.6 L1251.6,604.9 L1252.9,604.3 L1254.3,603.6 L1255.6,603.0 L1257.0,602.3 L1258.3,601.6 L1259.7,601.0 L1261.0,600.3 L1262.3,599.7 L1263.7,599.0 L1265.0,598.4 L1266.4,597.7 L1267.7,597.0 L1269.1,596.4 L1270.4,595.7 L1271.8,595.1 L1273.1,594.4 L1274.5,593.7 L1275.8,593.1 L1277.2,592.4 L1278.5,591.8 L1279.9,591.1 L1281.2,590.4 L1282.5,589.7 L1283.6,589.2 M1293.3,584.1 L1294.5,583.4 L1295.8,582.8 L1297.2,582.1 L1298.5,581.4 L1299.8,580.7 L1300.2,580.5 M1310.1,575.7 L1310.6,575.4 L1312.0,574.8 L1313.3,574.1 L1314.7,573.5 L1316.1,572.9 L1317.4,572.2 L1318.8,571.6 L1320.2,571.0 L1321.5,570.4 L1322.9,569.8 L1324.3,569.1 L1325.6,568.5 L1327.0,567.9 L1328.4,567.3 L1329.7,566.7 L1331.1,566.1 L1332.5,565.4 L1333.8,564.8 L1335.2,564.2 L1336.6,563.6 L1337.9,563.0 L1339.3,562.3 L1340.7,561.7 L1342.0,561.1 L1343.4,560.5 L1344.8,559.9 L1346.1,559.2 L1347.5,558.6 L1348.8,557.9 L1350.2,557.3 L1351.5,556.6 L1352.4,556.2 M1362.1,550.8 L1363.3,550.1 L1364.6,549.4 L1365.9,548.6 L1367.2,547.9 L1368.6,547.1 L1368.8,547.0 M1378.5,541.7 L1379.1,541.4 L1380.4,540.7 L1381.8,540.0 L1383.1,539.4 L1384.5,538.8 L1385.8,538.2 L1387.2,537.6 L1388.6,537.0 L1390.0,536.4 L1391.3,535.8 L1392.7,535.2 L1394.1,534.6 L1395.5,534.0 L1396.9,533.4 L1398.2,532.8 L1399.6,532.2 L1401.0,531.6 L1402.4,531.0 L1403.8,530.5 L1405.1,529.9 L1406.5,529.3 L1407.9,528.7 L1409.3,528.1 L1410.7,527.5 L1412.0,526.9 L1413.4,526.3 L1414.8,525.7 L1416.2,525.1 L1417.5,524.5 L1418.9,523.9 L1420.3,523.2 L1421.1,522.8 M1431.0,517.8 L1432.3,517.1 L1433.6,516.5 L1435.0,515.8 L1436.4,515.2 L1437.7,514.5 L1438.0,514.4 M1448.1,509.9 L1448.7,509.6 L1450.0,509.0 L1451.4,508.4 L1452.8,507.8 L1454.2,507.2 L1455.5,506.6 L1456.9,506.0 L1458.3,505.4 L1459.6,504.8 L1461.0,504.1 L1462.4,503.5 L1463.7,502.9 L1465.1,502.3 L1466.5,501.7 L1467.9,501.1 L1469.2,500.5 L1470.6,499.8 L1472.0,499.2 L1473.3,498.6 L1474.7,498.0 L1476.1,497.4 L1477.4,496.8 L1478.8,496.2 L1480.2,495.6 L1481.6,494.9 L1482.9,494.3 L1484.3,493.7 L1485.7,493.1 L1487.0,492.5 L1488.4,491.9 L1489.8,491.2 L1490.7,490.8 M1500.8,486.2 L1502.0,485.6 L1503.4,484.9 L1504.7,484.3 L1506.1,483.6 L1507.4,483.0 L1507.7,482.8 M1517.6,478.0 L1518.2,477.7 L1519.6,477.0 L1520.9,476.4 L1522.3,475.8 L1523.6,475.1 L1525.0,474.5 L1526.4,473.9 L1527.7,473.2 L1529.1,472.6 L1530.5,472.0 L1531.8,471.4 L1533.2,470.7 L1534.6,470.1 L1535.9,469.5 L1537.3,468.9 L1538.6,468.3 L1540.0,467.6 L1541.4,467.0 L1542.7,466.4 L1544.1,465.8 L1545.5,465.1 L1546.8,464.5 L1548.2,463.9 L1549.6,463.3 L1550.9,462.6 L1552.3,462.0 L1553.7,461.4 L1555.0,460.8 L1556.4,460.1 L1557.8,459.5 L1559.1,458.9 L1559.7,458.6 M1569.7,453.9 L1570.0,453.8 L1571.3,453.1 L1572.7,452.5 L1574.0,451.8 L1575.4,451.2 L1576.6,450.6 M1586.5,445.7 L1587.5,445.3 L1588.9,444.6 L1590.3,444.0 L1591.6,443.4 L1593.0,442.7 L1594.3,442.1 L1595.7,441.5 L1597.1,440.8 L1598.4,440.2 L1599.8,439.6 L1601.2,439.0 L1602.5,438.3 L1603.9,437.7 L1605.3,437.1 L1606.6,436.5 L1608.0,435.9 L1609.4,435.2 L1610.7,434.6 L1612.1,434.0 L1613.4,433.4 L1614.8,432.7 L1616.2,432.1 L1617.5,431.5 L1618.9,430.9 L1620.3,430.2 L1621.6,429.6 L1623.0,429.0 L1624.4,428.4 L1625.7,427.7 L1627.1,427.1 L1628.5,426.5 L1628.6,426.4 M1638.6,421.8 L1639.3,421.4 L1640.7,420.8 L1642.1,420.2 L1643.4,419.6 L1644.8,419.0 L1645.6,418.6 M1655.8,414.1 L1655.8,414.1 L1657.2,413.5 L1658.5,412.9 L1659.9,412.3 L1661.3,411.7 L1662.6,411.0 L1664.0,410.4 L1665.4,409.8 L1666.7,409.2 L1668.1,408.6 L1669.5,407.9 L1670.8,407.3 L1672.2,406.7 L1673.6,406.1 L1674.9,405.4 L1676.3,404.8 L1677.7,404.2 L1679.0,403.6 L1680.4,402.9 L1681.8,402.3 L1683.1,401.7 L1684.5,401.1 L1685.9,400.5 L1687.2,399.8 L1688.6,399.2 L1690.0,398.6 L1691.3,397.9 L1692.7,397.3 L1694.0,396.6 L1695.4,396.0 L1696.7,395.3 L1698.0,394.6 M1707.6,389.3 L1708.5,388.8 L1709.8,388.0 L1711.1,387.3 L1712.4,386.5 L1713.7,385.8 L1714.3,385.4" fill="none" stroke="#ff0000" stroke-width="7.8" stroke-linejoin="round" stroke-linecap="butt"/>
<path d="M284.8,1342.5 L286.3,1342.1 L287.7,1341.7 L289.2,1341.3 L290.6,1340.9 L292.1,1340.5 L293.5,1340.1 L295.0,1339.7 L296.4,1339.3 L297.9,1339.0 L299.3,1338.6 L300.8,1338.2 L302.2,1337.8 L303.7,1337.4 L305.1,1337.0 L306.6,1336.6 L308.0,1336.2 L309.5,1335.8 L310.9,1335.4 L312.4,1335.0 L313.8,1334.6 L315.3,1334.2 L316.7,1333.8 L318.2,1333.4 L319.6,1333.0 L321.0,1332.6 L322.5,1332.1 L323.9,1331.6 L325.2,1331.0 L326.6,1330.5 L327.9,1329.8 M337.2,1324.5 L338.3,1323.8 L339.6,1323.1 L340.9,1322.3 L342.3,1321.6 L343.6,1321.0 L343.8,1320.9 M353.8,1316.3 L354.5,1315.9 L355.9,1315.4 L357.3,1314.8 L358.7,1314.2 L360.1,1313.7 L361.5,1313.1 L362.9,1312.5 L364.3,1312.0 L365.7,1311.4 L367.1,1310.9 L368.5,1310.3 L369.9,1309.8 L371.3,1309.2 L372.7,1308.7 L374.1,1308.1 L375.5,1307.6 L376.9,1307.0 L378.3,1306.5 L379.7,1305.9 L381.1,1305.4 L382.5,1304.8 L383.9,1304.3 L385.3,1303.7 L386.7,1303.2 L388.1,1302.6 L389.5,1302.1 L390.8,1301.5 L392.2,1300.9 L393.6,1300.3 L395.0,1299.7 L396.3,1299.1 L396.6,1299.0 M406.3,1293.8 L407.0,1293.4 L408.3,1292.7 L409.6,1292.0 L410.7,1291.0 L411.8,1290.0 L412.4,1289.4 M420.3,1281.8 L420.4,1281.6 L421.4,1280.5 L422.4,1279.4 L423.3,1278.3 L424.3,1277.1 L425.2,1275.9 L426.1,1274.7 L427.0,1273.6 L427.9,1272.4 L428.8,1271.2 L429.7,1269.9 L430.6,1268.7 L431.5,1267.5 L432.4,1266.3 L433.2,1265.1 L434.1,1263.9 L435.0,1262.7 L435.9,1261.4 L436.8,1260.2 L437.6,1259.0 L438.5,1257.8 L439.4,1256.6 L440.3,1255.4 L441.1,1254.1 L442.0,1252.9 L442.9,1251.7 L443.7,1250.5 L444.6,1249.2 L445.5,1248.0 L446.3,1246.8 L447.1,1245.5 L447.7,1244.7 M453.6,1235.4 L453.6,1235.4 L454.4,1234.1 L455.2,1232.8 L455.9,1231.5 L456.7,1230.3 L457.5,1229.0 L457.5,1228.8 M463.1,1219.3 L463.5,1218.6 L464.3,1217.3 L465.1,1216.0 L465.9,1214.7 L466.6,1213.5 L467.4,1212.2 L468.2,1210.9 L469.0,1209.6 L469.8,1208.3 L470.6,1207.1 L471.4,1205.8 L472.2,1204.5 L473.0,1203.2 L473.8,1202.0 L474.5,1200.7 L475.3,1199.4 L476.1,1198.1 L476.9,1196.9 L477.7,1195.6 L478.5,1194.3 L479.3,1193.1 L480.1,1191.8 L480.9,1190.5 L481.7,1189.2 L482.5,1188.0 L483.3,1186.7 L484.1,1185.4 L484.9,1184.2 L485.7,1182.9 L486.6,1181.6 L487.4,1180.4 L487.7,1179.9 M493.7,1170.6 L493.9,1170.3 L494.7,1169.0 L495.5,1167.7 L496.2,1166.5 L497.0,1165.2 L497.7,1164.1 M503.3,1154.6 L503.9,1153.6 L504.7,1152.3 L505.5,1151.0 L506.3,1149.7 L507.0,1148.4 L507.8,1147.2 L508.7,1145.9 L509.5,1144.6 L510.3,1143.4 L511.1,1142.1 L511.9,1140.9 L512.7,1139.6 L513.5,1138.3 L514.3,1137.1 L515.2,1135.8 L516.0,1134.6 L516.8,1133.3 L517.6,1132.0 L518.4,1130.8 L519.2,1129.5 L520.1,1128.3 L520.9,1127.0 L521.7,1125.7 L522.5,1124.5 L523.4,1123.2 L524.2,1122.0 L525.0,1120.7 L525.9,1119.5 L526.7,1118.2 L527.5,1117.0 L528.4,1115.8 L528.5,1115.7 M534.9,1106.7 L535.4,1106.0 L536.3,1104.8 L537.2,1103.6 L538.1,1102.4 L539.0,1101.2 L539.5,1100.6 M546.3,1091.7 L546.3,1091.7 L547.2,1090.5 L548.1,1089.3 L549.0,1088.1 L549.9,1086.8 L550.7,1085.6 L551.6,1084.4 L552.5,1083.2 L553.3,1081.9 L554.2,1080.7 L555.0,1079.5 L555.9,1078.2 L556.7,1077.0 L557.6,1075.7 L558.4,1074.5 L559.3,1073.3 L560.1,1072.0 L561.0,1070.8 L561.8,1069.5 L562.7,1068.3 L563.5,1067.1 L564.4,1065.8 L565.2,1064.6 L566.1,1063.4 L566.9,1062.2 L567.8,1060.9 L568.7,1059.7 L569.6,1058.5 L570.5,1057.3 L571.4,1056.1 L572.4,1055.0 L573.3,1053.8 L573.4,1053.7 M580.7,1045.3 L581.2,1044.8 L582.2,1043.7 L583.2,1042.6 L584.3,1041.5 L585.3,1040.4 L586.0,1039.7 M593.6,1031.7 L594.6,1030.6 L595.7,1029.5 L596.7,1028.4 L597.7,1027.3 L598.7,1026.2 L599.7,1025.1 L600.7,1024.0 L601.7,1022.8 L602.6,1021.7 L603.6,1020.6 L604.6,1019.4 L605.6,1018.3 L606.6,1017.2 L607.5,1016.0 L608.5,1014.9 L609.5,1013.7 L610.5,1012.6 L611.4,1011.4 L612.4,1010.3 L613.4,1009.2 L614.4,1008.0 L615.3,1006.9 L616.3,1005.7 L617.3,1004.6 L618.3,1003.5 L619.3,1002.3 L620.2,1001.2 L621.2,1000.1 L622.2,998.9 L623.2,997.8 L624.2,996.7 M631.5,988.4 L632.1,987.6 L633.1,986.5 L634.1,985.4 L635.1,984.3 L636.1,983.1 L636.6,982.6 M644.0,974.4 L644.1,974.2 L645.2,973.1 L646.2,972.0 L647.2,971.0 L648.3,969.9 L649.3,968.8 L650.4,967.7 L651.4,966.6 L652.5,965.6 L653.5,964.5 L654.6,963.4 L655.6,962.4 L656.7,961.3 L657.8,960.2 L658.8,959.2 L659.9,958.1 L660.9,957.1 L662.0,956.0 L663.1,954.9 L664.1,953.9 L665.2,952.8 L666.2,951.8 L667.3,950.7 L668.4,949.6 L669.4,948.6 L670.5,947.5 L671.6,946.5 L672.6,945.4 L673.7,944.4 L674.8,943.3 L675.9,942.3 L676.8,941.4 M684.7,933.7 L685.6,932.9 L686.7,931.9 L687.8,930.8 L688.9,929.8 L690.0,928.8 L690.4,928.4 M698.5,920.9 L698.8,920.6 L699.9,919.6 L701.0,918.6 L702.1,917.6 L703.2,916.6 L704.4,915.6 L705.5,914.6 L706.6,913.6 L707.7,912.5 L708.8,911.5 L709.9,910.5 L711.0,909.5 L712.1,908.5 L713.2,907.5 L714.4,906.5 L715.5,905.5 L716.6,904.5 L717.7,903.5 L718.8,902.5 L719.9,901.5 L721.0,900.4 L722.1,899.4 L723.3,898.4 L724.4,897.4 L725.5,896.4 L726.6,895.4 L727.7,894.4 L728.9,893.4 L730.0,892.4 L731.1,891.4 L732.2,890.5 L733.0,889.8 M741.4,882.7 L742.6,881.7 L743.7,880.8 L744.9,879.8 L746.0,878.8 L747.2,877.9 L747.3,877.7 M755.7,870.6 L756.3,870.1 L757.5,869.1 L758.6,868.2 L759.8,867.2 L760.9,866.2 L762.0,865.2 L763.2,864.2 L764.3,863.2 L765.4,862.3 L766.5,861.3 L767.7,860.3 L768.8,859.3 L769.9,858.3 L771.1,857.3 L772.2,856.3 L773.3,855.3 L774.4,854.3 L775.6,853.4 L776.7,852.4 L777.8,851.4 L779.0,850.4 L780.1,849.4 L781.2,848.4 L782.4,847.4 L783.5,846.5 L784.7,845.5 L785.8,844.5 L786.9,843.6 L788.1,842.6 L789.3,841.6 L790.4,840.7 L790.8,840.4 M799.4,833.6 L799.9,833.3 L801.1,832.4 L802.3,831.5 L803.4,830.5 L804.6,829.6 L805.6,828.9 M814.3,822.1 L815.3,821.3 L816.5,820.4 L817.6,819.5 L818.8,818.5 L820.0,817.6 L821.2,816.6 L822.3,815.7 L823.5,814.7 L824.7,813.8 L825.8,812.9 L827.0,811.9 L828.2,811.0 L829.3,810.0 L830.5,809.1 L831.7,808.1 L832.8,807.2 L834.0,806.2 L835.2,805.3 L836.3,804.3 L837.5,803.4 L838.7,802.4 L839.8,801.5 L841.0,800.6 L842.2,799.6 L843.3,798.7 L844.5,797.7 L845.7,796.8 L846.8,795.8 L848.0,794.9 L849.2,794.0 L850.3,793.0 L850.8,792.6 M859.6,785.7 L859.8,785.6 L861.0,784.7 L862.2,783.8 L863.3,782.8 L864.5,781.9 L865.7,781.0 M874.5,774.3 L875.3,773.8 L876.5,772.9 L877.7,772.0 L878.9,771.1 L880.1,770.1 L881.3,769.2 L882.5,768.3 L883.7,767.4 L884.9,766.5 L886.1,765.6 L887.3,764.7 L888.5,763.8 L889.6,762.9 L890.8,761.9 L892.0,761.0 L893.2,760.1 L894.4,759.2 L895.6,758.3 L896.8,757.4 L898.0,756.5 L899.2,755.6 L900.4,754.7 L901.6,753.8 L902.8,752.9 L904.0,751.9 L905.2,751.0 L906.4,750.1 L907.6,749.2 L908.8,748.3 L910.0,747.5 L911.2,746.6 L911.7,746.2 M920.6,739.6 L920.9,739.4 L922.1,738.5 L923.3,737.6 L924.4,736.7 L925.6,735.8 L926.7,735.0 M935.3,728.2 L936.2,727.4 L937.4,726.5 L938.6,725.6 L939.8,724.7 L941.0,723.8 L942.3,723.0 L943.5,722.1 L944.7,721.2 L945.9,720.3 L947.1,719.4 L948.4,718.6 L949.6,717.7 L950.8,716.8 L952.0,716.0 L953.3,715.1 L954.5,714.2 L955.7,713.4 L956.9,712.5 L958.2,711.6 L959.4,710.8 L960.6,709.9 L961.9,709.0 L963.1,708.2 L964.3,707.3 L965.5,706.4 L966.8,705.6 L968.0,704.7 L969.2,703.8 L970.4,703.0 L971.6,702.1 L972.9,701.2 M981.9,695.0 L982.8,694.4 L984.0,693.6 L985.3,692.8 L986.5,692.0 L987.8,691.2 L988.4,690.9 M998.0,685.2 L998.2,685.1 L999.5,684.4 L1000.7,683.6 L1002.0,682.8 L1003.3,682.0 L1004.6,681.2 L1005.8,680.4 L1007.1,679.6 L1008.4,678.8 L1009.6,678.0 L1010.9,677.2 L1012.1,676.3 L1013.4,675.5 L1014.6,674.6 L1015.8,673.8 L1017.1,672.9 L1018.3,672.1 L1019.6,671.2 L1020.8,670.4 L1022.0,669.5 L1023.3,668.7 L1024.5,667.8 L1025.7,667.0 L1027.0,666.1 L1028.2,665.2 L1029.4,664.4 L1030.6,663.5 L1031.8,662.6 L1033.1,661.7 L1034.3,660.9 L1035.5,660.0 L1036.7,659.1 L1037.0,658.9 M1046.0,652.3 L1046.4,652.0 L1047.6,651.1 L1048.8,650.3 L1050.1,649.4 L1051.3,648.5 L1052.3,647.8 M1061.5,641.7 L1062.5,641.0 L1063.8,640.2 L1065.0,639.4 L1066.3,638.5 L1067.6,637.7 L1068.8,636.9 L1070.1,636.1 L1071.3,635.3 L1072.6,634.5 L1073.9,633.7 L1075.1,632.9 L1076.4,632.1 L1077.7,631.3 L1078.9,630.5 L1080.2,629.6 L1081.5,628.8 L1082.7,628.0 L1084.0,627.2 L1085.3,626.4 L1086.5,625.6 L1087.8,624.8 L1089.1,624.0 L1090.3,623.2 L1091.6,622.4 L1092.8,621.5 L1094.1,620.7 L1095.4,619.9 L1096.6,619.1 L1097.9,618.3 L1099.1,617.4 L1100.4,616.6 M1109.5,610.4 L1110.3,609.8 L1111.5,609.0 L1112.8,608.1 L1114.0,607.3 L1115.2,606.4 L1115.8,606.0 M1125.1,599.8 L1125.2,599.7 L1126.5,598.9 L1127.8,598.1 L1129.0,597.3 L1130.3,596.6 L1131.6,595.8 L1132.9,595.0 L1134.2,594.2 L1135.5,593.5 L1136.7,592.7 L1138.0,591.9 L1139.3,591.2 L1140.6,590.4 L1141.9,589.7 L1143.2,588.9 L1144.5,588.1 L1145.8,587.4 L1147.1,586.6 L1148.4,585.9 L1149.7,585.1 L1151.0,584.4 L1152.3,583.6 L1153.6,582.8 L1154.9,582.1 L1156.2,581.3 L1157.5,580.5 L1158.8,579.8 L1160.0,579.0 L1161.3,578.2 L1162.6,577.4 L1163.9,576.7 L1165.2,575.9 L1165.4,575.7 M1174.8,569.8 L1175.3,569.4 L1176.6,568.6 L1177.8,567.8 L1179.1,567.0 L1180.3,566.2 L1181.2,565.6 M1190.4,559.8 L1190.5,559.8 L1191.8,559.0 L1193.1,558.2 L1194.4,557.5 L1195.7,556.8 L1197.0,556.0 L1198.3,555.3 L1199.6,554.6 L1201.0,553.9 L1202.3,553.2 L1203.6,552.5 L1204.9,551.8 L1206.3,551.1 L1207.6,550.4 L1208.9,549.7 L1210.2,549.0 L1211.6,548.3 L1212.9,547.6 L1214.2,546.9 L1215.6,546.2 L1216.9,545.5 L1218.2,544.8 L1219.5,544.1 L1220.9,543.4 L1222.2,542.7 L1223.5,541.9 L1224.8,541.2 L1226.1,540.5 L1227.4,539.7 L1228.7,539.0 L1230.0,538.2 L1230.3,538.0 M1239.5,532.3 L1240.2,531.9 L1241.5,531.1 L1242.7,530.3 L1244.0,529.5 L1245.3,528.7 L1245.9,528.3 M1255.4,522.6 L1255.6,522.5 L1256.9,521.7 L1258.2,521.0 L1259.5,520.2 L1260.8,519.5 L1262.1,518.8 L1263.4,518.0 L1264.7,517.3 L1266.0,516.6 L1267.4,515.9 L1268.7,515.2 L1270.0,514.5 L1271.3,513.7 L1272.6,513.0 L1274.0,512.3 L1275.3,511.6 L1276.6,510.9 L1277.9,510.2 L1279.2,509.5 L1280.6,508.7 L1281.9,508.0 L1283.2,507.3 L1284.5,506.6 L1285.8,505.9 L1287.2,505.2 L1288.5,504.4 L1289.8,503.7 L1291.1,503.0 L1292.4,502.3 L1293.7,501.5 L1295.0,500.8 L1296.2,500.2 M1305.9,494.7 L1306.8,494.2 L1308.1,493.4 L1309.4,492.7 L1310.7,491.9 L1312.0,491.2 L1312.6,490.9 M1322.3,485.5 L1322.5,485.4 L1323.8,484.7 L1325.2,484.0 L1326.5,483.3 L1327.9,482.6 L1329.2,481.9 L1330.5,481.3 L1331.9,480.6 L1333.2,480.0 L1334.6,479.3 L1335.9,478.7 L1337.3,478.0 L1338.7,477.4 L1340.0,476.7 L1341.4,476.1 L1342.7,475.4 L1344.1,474.8 L1345.4,474.2 L1346.8,473.5 L1348.2,472.9 L1349.5,472.2 L1350.9,471.6 L1352.2,470.9 L1353.6,470.3 L1354.9,469.6 L1356.3,468.9 L1357.6,468.3 L1358.9,467.6 L1360.3,466.9 L1361.6,466.2 L1362.9,465.5 L1364.2,464.8 M1373.8,459.2 L1374.6,458.8 L1375.9,458.0 L1377.2,457.3 L1378.6,456.6 L1379.9,455.9 L1380.6,455.5 M1390.5,450.6 L1390.6,450.5 L1392.0,449.9 L1393.3,449.2 L1394.6,448.5 L1396.0,447.9 L1397.3,447.2 L1398.7,446.5 L1400.0,445.9 L1401.4,445.2 L1402.7,444.5 L1404.1,443.9 L1405.4,443.2 L1406.7,442.5 L1408.1,441.9 L1409.4,441.2 L1410.8,440.5 L1412.1,439.8 L1413.5,439.2 L1414.8,438.5 L1416.1,437.8 L1417.5,437.2 L1418.8,436.5 L1420.2,435.8 L1421.5,435.1 L1422.9,434.5 L1424.2,433.8 L1425.5,433.1 L1426.9,432.4 L1428.2,431.7 L1429.6,431.1 L1430.9,430.4 L1432.0,429.8 M1441.8,424.7 L1442.9,424.2 L1444.2,423.5 L1445.6,422.8 L1446.9,422.1 L1448.2,421.5 L1448.7,421.2 M1458.7,416.4 L1459.0,416.2 L1460.4,415.6 L1461.7,414.9 L1463.1,414.2 L1464.4,413.6 L1465.8,412.9 L1467.1,412.2 L1468.5,411.6 L1469.8,410.9 L1471.2,410.2 L1472.5,409.6 L1473.9,408.9 L1475.2,408.2 L1476.6,407.6 L1477.9,406.9 L1479.2,406.2 L1480.6,405.6 L1481.9,404.9 L1483.3,404.2 L1484.6,403.5 L1486.0,402.9 L1487.3,402.2 L1488.6,401.5 L1490.0,400.8 L1491.3,400.2 L1492.6,399.5 L1494.0,398.8 L1495.3,398.0 L1496.6,397.3 L1497.9,396.6 L1499.2,395.8 L1500.1,395.3 M1509.4,389.4 L1510.6,388.6 L1511.8,387.7 L1513.0,386.9 L1514.3,386.0 L1515.5,385.2 L1515.8,385.0" fill="none" stroke="#0000ff" stroke-width="7.8" stroke-linejoin="round" stroke-linecap="butt"/>
</g>
<line x1="342.0" y1="1414.5" x2="342.0" y2="1400.2" stroke="#000" stroke-width="5.6"/>
<line x1="342.0" y1="52.5" x2="342.0" y2="66.8" stroke="#000" stroke-width="5.6"/>
<line x1="455.5" y1="1414.5" x2="455.5" y2="1400.2" stroke="#000" stroke-width="5.6"/>
<line x1="455.5" y1="52.5" x2="455.5" y2="66.8" stroke="#000" stroke-width="5.6"/>
<line x1="569.0" y1="1414.5" x2="569.0" y2="1389.1" stroke="#000" stroke-width="7"/>
<line x1="569.0" y1="52.5" x2="569.0" y2="77.9" stroke="#000" stroke-width="7"/>
<line x1="682.5" y1="1414.5" x2="682.5" y2="1400.2" stroke="#000" stroke-width="5.6"/>
<line x1="682.5" y1="52.5" x2="682.5" y2="66.8" stroke="#000" stroke-width="5.6"/>
<line x1="796.0" y1="1414.5" x2="796.0" y2="1400.2" stroke="#000" stroke-width="5.6"/>
<line x1="796.0" y1="52.5" x2="796.0" y2="66.8" stroke="#000" stroke-width="5.6"/>
<line x1="909.5" y1="1414.5" x2="909.5" y2="1389.1" stroke="#000" stroke-width="7"/>
<line x1="909.5" y1="52.5" x2="909.5" y2="77.9" stroke="#000" stroke-width="7"/>
<line x1="1023.0" y1="1414.5" x2="1023.0" y2="1400.2" stroke="#000" stroke-width="5.6"/>
<line x1="1023.0" y1="52.5" x2="1023.0" y2="66.8" stroke="#000" stroke-width="5.6"/>
<line x1="1136.5" y1="1414.5" x2="1136.5" y2="1400.2" stroke="#000" stroke-width="5.6"/>
<line x1="1136.5" y1="52.5" x2="1136.5" y2="66.8" stroke="#000" stroke-width="5.6"/>
<line x1="1250.0" y1="1414.5" x2="1250.0" y2="1389.1" stroke="#000" stroke-width="7"/>
<line x1="1250.0" y1="52.5" x2="1250.0" y2="77.9" stroke="#000" stroke-width="7"/>
<line x1="1363.5" y1="1414.5" x2="1363.5" y2="1400.2" stroke="#000" stroke-width="5.6"/>
<line x1="1363.5" y1="52.5" x2="1363.5" y2="66.8" stroke="#000" stroke-width="5.6"/>
<line x1="1477.0" y1="1414.5" x2="1477.0" y2="1400.2" stroke="#000" stroke-width="5.6"/>
<line x1="1477.0" y1="52.5" x2="1477.0" y2="66.8" stroke="#000" stroke-width="5.6"/>
<line x1="1590.5" y1="1414.5" x2="1590.5" y2="1389.1" stroke="#000" stroke-width="7"/>
<line x1="1590.5" y1="52.5" x2="1590.5" y2="77.9" stroke="#000" stroke-width="7"/>
<line x1="1704.0" y1="1414.5" x2="1704.0" y2="1400.2" stroke="#000" stroke-width="5.6"/>
<line x1="1704.0" y1="52.5" x2="1704.0" y2="66.8" stroke="#000" stroke-width="5.6"/>
<line x1="1817.5" y1="1414.5" x2="1817.5" y2="1400.2" stroke="#000" stroke-width="5.6"/>
<line x1="1817.5" y1="52.5" x2="1817.5" y2="66.8" stroke="#000" stroke-width="5.6"/>
<line x1="228.5" y1="1301.0" x2="242.8" y2="1301.0" stroke="#000" stroke-width="5.6"/>
<line x1="1931.0" y1="1301.0" x2="1916.7" y2="1301.0" stroke="#000" stroke-width="5.6"/>
<line x1="228.5" y1="1187.5" x2="253.9" y2="1187.5" stroke="#000" stroke-width="7"/>
<line x1="1931.0" y1="1187.5" x2="1905.6" y2="1187.5" stroke="#000" stroke-width="7"/>
<line x1="228.5" y1="1074.0" x2="242.8" y2="1074.0" stroke="#000" stroke-width="5.6"/>
<line x1="1931.0" y1="1074.0" x2="1916.7" y2="1074.0" stroke="#000" stroke-width="5.6"/>
<line x1="228.5" y1="960.5" x2="253.9" y2="960.5" stroke="#000" stroke-width="7"/>
<line x1="1931.0" y1="960.5" x2="1905.6" y2="960.5" stroke="#000" stroke-width="7"/>
<line x1="228.5" y1="847.0" x2="242.8" y2="847.0" stroke="#000" stroke-width="5.6"/>
<line x1="1931.0" y1="847.0" x2="1916.7" y2="847.0" stroke="#000" stroke-width="5.6"/>
<line x1="228.5" y1="733.5" x2="253.9" y2="733.5" stroke="#000" stroke-width="7"/>
<line x1="1931.0" y1="733.5" x2="1905.6" y2="733.5" stroke="#000" stroke-width="7"/>
<line x1="228.5" y1="620.0" x2="242.8" y2="620.0" stroke="#000" stroke-width="5.6"/>
<line x1="1931.0" y1="620.0" x2="1916.7" y2="620.0" stroke="#000" stroke-width="5.6"/>
<line x1="228.5" y1="506.5" x2="253.9" y2="506.5" stroke="#000" stroke-width="7"/>
<line x1="1931.0" y1="506.5" x2="1905.6" y2="506.5" stroke="#000" stroke-width="7"/>
<line x1="228.5" y1="393.0" x2="242.8" y2="393.0" stroke="#000" stroke-width="5.6"/>
<line x1="1931.0" y1="393.0" x2="1916.7" y2="393.0" stroke="#000" stroke-width="5.6"/>
<line x1="228.5" y1="279.5" x2="253.9" y2="279.5" stroke="#000" stroke-width="7"/>
<line x1="1931.0" y1="279.5" x2="1905.6" y2="279.5" stroke="#000" stroke-width="7"/>
<line x1="228.5" y1="166.0" x2="242.8" y2="166.0" stroke="#000" stroke-width="5.6"/>
<line x1="1931.0" y1="166.0" x2="1916.7" y2="166.0" stroke="#000" stroke-width="5.6"/>
<path d="M228.4,52.45 H1931 V1414.45 H228.4 Z" fill="none" stroke="#000" stroke-width="6.7" stroke-linejoin="miter"/>
<text transform="translate(228.5,1490.5) scale(0.972,1)" font-size="73" text-anchor="middle">0</text>
<text transform="translate(569.0,1490.5) scale(0.972,1)" font-size="73" text-anchor="middle">30</text>
<text transform="translate(909.5,1490.5) scale(0.972,1)" font-size="73" text-anchor="middle">60</text>
<text transform="translate(1250.0,1490.5) scale(0.972,1)" font-size="73" text-anchor="middle">90</text>
<text transform="translate(1590.5,1490.5) scale(0.972,1)" font-size="73" text-anchor="middle">120</text>
<text transform="translate(1931.0,1490.5) scale(0.972,1)" font-size="73" text-anchor="middle">150</text>
<text transform="translate(203.5,1440.0) scale(0.972,1)" font-size="73" text-anchor="end">0</text>
<text transform="translate(203.5,1213.0) scale(0.972,1)" font-size="73" text-anchor="end">20</text>
<text transform="translate(203.5,986.0) scale(0.972,1)" font-size="73" text-anchor="end">40</text>
<text transform="translate(203.5,759.0) scale(0.972,1)" font-size="73" text-anchor="end">60</text>
<text transform="translate(203.5,532.0) scale(0.972,1)" font-size="73" text-anchor="end">80</text>
<text transform="translate(203.5,305.0) scale(0.972,1)" font-size="73" text-anchor="end">100</text>
<text transform="translate(203.5,78.0) scale(0.972,1)" font-size="73" text-anchor="end">120</text>
<text x="1025" y="1557.8" font-size="73"><tspan font-style="italic">x</tspan>/m</text>
<text transform="translate(70,730.8) rotate(-90) scale(0.953,1)" font-size="73" text-anchor="middle"><tspan font-style="italic">y</tspan>/m</text>
<text transform="translate(233.5,447.9) scale(0.96,1)" font-size="70" font-style="italic">H</text><text transform="translate(290.8,453.2) scale(1.26,0.96)" font-size="73" style="stroke-width:1.5px">=</text><text x="353.0" y="447.9" font-size="73">80</text>
<line x1="1207.1" y1="799.9" x2="1359.1" y2="799.9" stroke="#ff0000" stroke-width="7.8"/>
<text transform="translate(1414.2,825.1) scale(1,0.965)" font-size="73">Tunnel,</text>
<text transform="translate(1653.9,825.1) scale(1,0.95)" font-size="73" font-style="italic">K</text>
<text transform="translate(1709.6,830.4) scale(1.26,0.96)" font-size="73" style="stroke-width:1.5px">=</text>
<text x="1768.2" y="825.1" font-size="73">0.5</text>
<line x1="1207.1" y1="901.65" x2="1359.1" y2="901.65" stroke="#0000ff" stroke-width="7.8"/>
<text transform="translate(1412.7,926.9) scale(1,0.965)" font-size="73">Silo,</text>
<text transform="translate(1565.8,926.9) scale(1,0.95)" font-size="73" font-style="italic">K</text>
<text transform="translate(1621.5,932.2) scale(1.26,0.96)" font-size="73" style="stroke-width:1.5px">=</text>
<text x="1680.1" y="926.9" font-size="73">0.5</text>
<line x1="1210.9" y1="1003.4" x2="1359.1" y2="1003.4" stroke="#ff0000" stroke-width="7.8" stroke-dasharray="27.6 10.5"/>
<text transform="translate(1414.2,1028.6) scale(1,0.965)" font-size="73">Tunnel,</text>
<text transform="translate(1653.9,1028.6) scale(1,0.95)" font-size="73" font-style="italic">K</text>
<text transform="translate(1709.6,1033.9) scale(1.26,0.96)" font-size="73" style="stroke-width:1.5px">=</text>
<text x="1768.2" y="1028.6" font-size="73">1.0</text>
<line x1="1210.9" y1="1105.15" x2="1359.1" y2="1105.15" stroke="#0000ff" stroke-width="7.8" stroke-dasharray="27.6 10.5"/>
<text transform="translate(1412.7,1130.4) scale(1,0.965)" font-size="73">Silo,</text>
<text transform="translate(1565.8,1130.4) scale(1,0.95)" font-size="73" font-style="italic">K</text>
<text transform="translate(1621.5,1135.7) scale(1.26,0.96)" font-size="73" style="stroke-width:1.5px">=</text>
<text x="1680.1" y="1130.4" font-size="73">1.0</text>
<line x1="1210.9" y1="1206.9" x2="1359.1" y2="1206.9" stroke="#ff0000" stroke-width="7.8" stroke-dasharray="46.5 11.05 7.7 11.05"/>
<text transform="translate(1414.2,1232.1) scale(1,0.965)" font-size="73">Tunnel,</text>
<text transform="translate(1653.9,1232.1) scale(1,0.95)" font-size="73" font-style="italic">K</text>
<text transform="translate(1709.6,1237.4) scale(1.26,0.96)" font-size="73" style="stroke-width:1.5px">=</text>
<text x="1768.2" y="1232.1" font-size="73">3.0</text>
<line x1="1210.9" y1="1308.65" x2="1359.1" y2="1308.65" stroke="#0000ff" stroke-width="7.8" stroke-dasharray="46.5 11.05 7.7 11.05"/>
<text transform="translate(1412.7,1333.9) scale(1,0.965)" font-size="73">Silo,</text>
<text transform="translate(1565.8,1333.9) scale(1,0.95)" font-size="73" font-style="italic">K</text>
<text transform="translate(1621.5,1339.2) scale(1.26,0.96)" font-size="73" style="stroke-width:1.5px">=</text>
<text x="1680.1" y="1333.9" font-size="73">3.0</text>
</svg>
</body></html>
